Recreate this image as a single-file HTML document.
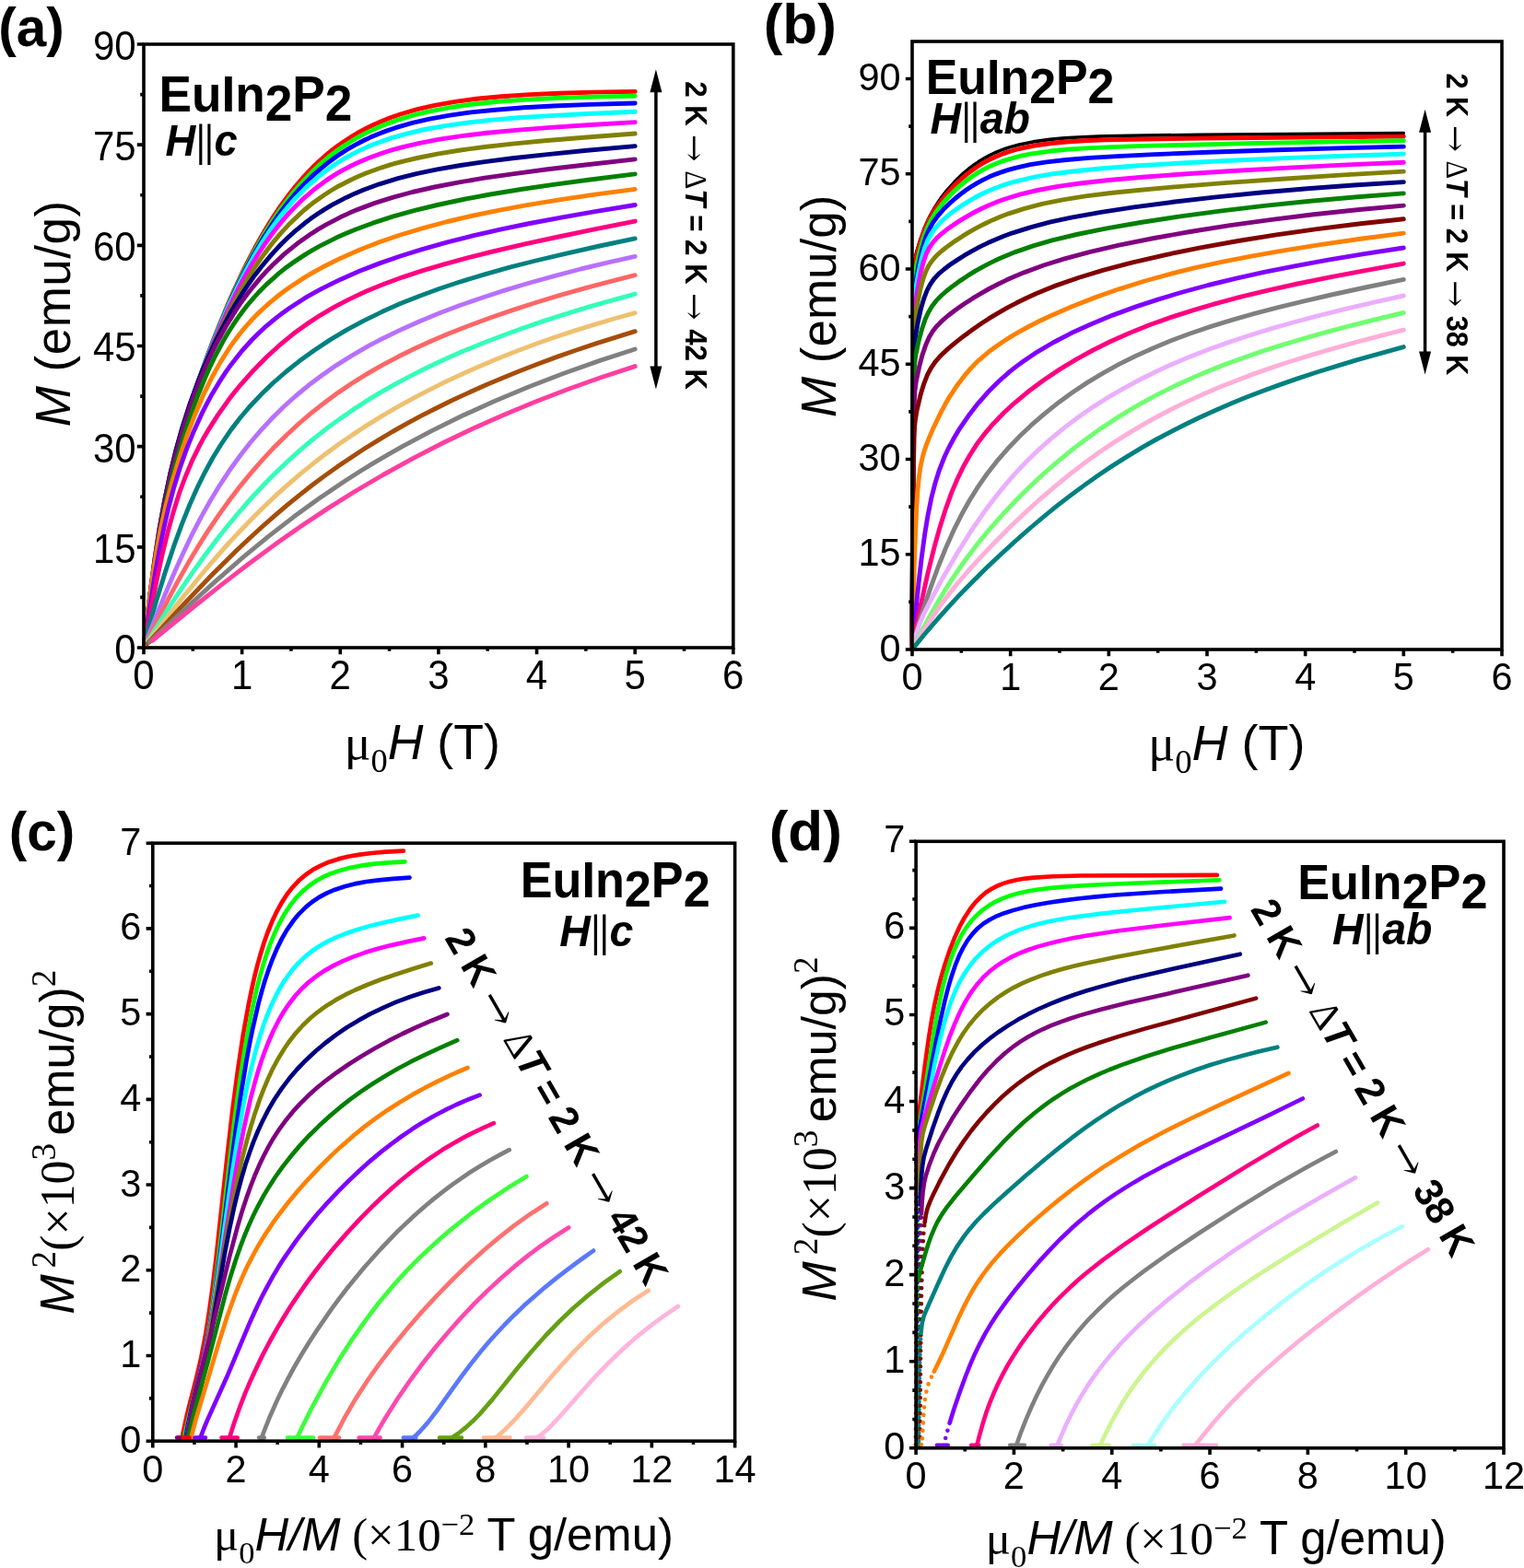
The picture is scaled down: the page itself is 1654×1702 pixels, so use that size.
<!DOCTYPE html><html><head><meta charset="utf-8"><style>html,body{margin:0;padding:0;background:#fff;}svg{display:block;}</style></head><body><svg xmlns="http://www.w3.org/2000/svg" width="1654" height="1702" viewBox="0 0 1654 1702"><rect width="1654" height="1702" fill="#fff"/><path d="M156.5 698.7 L163.0 644.5 L168.0 606.6 L173.2 572.9 L178.7 543.4 L184.9 515.2 L191.8 488.1 L200.6 458.3 L211.4 424.9 L224.7 387.4 L232.6 366.7 L239.5 349.3 L246.6 332.1 L254.1 315.1 L261.9 298.3 L268.3 285.2 L276.6 269.3 L283.5 257.0 L290.6 245.1 L297.8 233.6 L305.2 222.7 L312.9 212.2 L320.7 202.3 L328.7 193.0 L341.1 180.0 L347.4 174.0 L353.9 168.4 L360.4 163.0 L367.1 157.9 L373.9 153.2 L383.1 147.3 L390.1 143.2 L399.6 138.2 L406.9 134.7 L416.8 130.5 L424.3 127.5 L434.5 124.0 L452.8 118.7 L471.7 114.3 L494.0 110.4 L517.1 107.3 L544.0 104.7 L574.9 102.6 L607.1 101.2 L643.9 100.1 L689.2 99.4" stroke="#FF0000" stroke-width="4.9" fill="none" stroke-linecap="round" stroke-linejoin="round"/>
<path d="M156.5 698.8 L163.0 645.0 L168.0 607.2 L173.2 573.3 L178.7 543.4 L184.9 514.7 L191.8 487.3 L200.6 457.4 L210.3 427.6 L223.5 390.7 L231.2 370.3 L238.1 353.3 L245.2 336.4 L252.6 319.7 L260.3 303.2 L266.7 290.3 L275.0 274.6 L281.8 262.4 L288.8 250.7 L296.0 239.3 L303.4 228.5 L311.0 218.2 L318.7 208.3 L326.7 199.1 L339.0 186.2 L345.3 180.2 L351.7 174.6 L358.2 169.2 L364.9 164.1 L371.6 159.4 L380.8 153.5 L387.7 149.4 L397.2 144.4 L404.5 140.9 L414.3 136.6 L421.8 133.7 L431.9 130.1 L450.2 124.7 L469.0 120.3 L491.2 116.2 L514.2 113.0 L540.9 110.3 L571.8 108.1 L603.8 106.5 L643.9 105.1 L689.2 104.2" stroke="#00FF00" stroke-width="4.9" fill="none" stroke-linecap="round" stroke-linejoin="round"/>
<path d="M156.5 698.7 L163.0 644.9 L168.0 607.0 L173.2 573.2 L178.7 543.3 L184.9 514.7 L191.8 487.4 L200.6 457.6 L210.3 428.0 L223.5 391.3 L231.2 371.1 L238.1 354.3 L245.2 337.6 L252.6 321.0 L260.3 304.8 L266.7 292.2 L273.3 279.8 L280.1 267.9 L287.0 256.3 L294.2 245.2 L301.5 234.5 L309.0 224.4 L316.8 214.8 L324.7 205.7 L336.9 193.1 L343.2 187.3 L349.6 181.8 L356.0 176.6 L362.6 171.7 L369.3 167.1 L378.4 161.3 L385.4 157.4 L394.8 152.5 L402.0 149.1 L411.8 145.0 L419.3 142.1 L429.4 138.7 L447.5 133.4 L466.2 129.1 L488.4 125.1 L511.2 121.9 L537.9 119.2 L568.6 116.8 L600.6 115.0 L640.5 113.4 L689.2 112.0" stroke="#0000FF" stroke-width="4.9" fill="none" stroke-linecap="round" stroke-linejoin="round"/>
<path d="M156.5 698.7 L163.0 644.8 L168.0 606.9 L173.2 573.1 L178.7 543.2 L184.9 514.7 L191.8 487.5 L199.6 461.1 L209.1 431.5 L216.1 411.7 L222.2 395.0 L235.3 361.7 L242.3 345.1 L249.6 328.8 L257.2 312.8 L263.5 300.2 L270.0 288.1 L276.6 276.2 L283.5 264.8 L290.6 253.9 L297.8 243.4 L305.2 233.5 L312.9 224.1 L320.7 215.2 L332.8 202.9 L345.3 191.9 L358.2 182.0 L364.9 177.5 L373.9 172.0 L380.8 168.1 L390.1 163.4 L397.2 160.1 L406.9 156.1 L424.3 149.9 L442.3 144.8 L460.8 140.5 L482.8 136.6 L508.3 133.0 L534.9 130.1 L562.4 127.8 L597.3 125.6 L637.1 123.5 L689.2 121.3" stroke="#00FFFF" stroke-width="4.9" fill="none" stroke-linecap="round" stroke-linejoin="round"/>
<path d="M156.5 698.8 L163.0 645.2 L168.0 607.3 L172.6 577.1 L178.0 546.9 L183.2 521.3 L190.0 493.6 L197.5 467.0 L206.9 437.7 L212.6 421.5 L219.7 402.1 L232.6 369.7 L239.5 353.7 L246.6 337.9 L254.1 322.4 L260.3 310.2 L266.7 298.4 L273.3 287.0 L280.1 276.0 L287.0 265.4 L294.2 255.3 L301.5 245.7 L309.0 236.6 L316.8 228.0 L328.7 216.1 L341.1 205.5 L353.9 195.9 L360.4 191.6 L369.3 186.2 L383.1 179.0 L390.1 175.7 L399.6 171.7 L416.8 165.5 L426.8 162.4 L437.1 159.6 L455.5 155.3 L477.2 151.2 L502.6 147.4 L528.9 144.3 L559.3 141.4 L594.1 138.6 L637.1 135.7 L689.2 132.6" stroke="#FF00FF" stroke-width="4.9" fill="none" stroke-linecap="round" stroke-linejoin="round"/>
<path d="M156.5 698.9 L163.4 643.6 L168.6 605.4 L173.9 570.7 L178.7 543.5 L184.9 513.6 L190.9 488.8 L197.5 465.3 L205.8 439.6 L216.1 411.6 L222.2 396.3 L228.6 381.1 L235.3 366.1 L242.3 351.2 L249.6 336.6 L255.7 325.2 L263.5 311.3 L270.0 300.5 L276.6 290.1 L283.5 280.1 L290.6 270.5 L297.8 261.3 L305.2 252.6 L312.9 244.3 L324.7 232.9 L330.7 227.5 L339.0 220.8 L351.7 211.7 L358.2 207.5 L367.1 202.2 L380.8 195.2 L387.7 192.0 L397.2 188.0 L414.3 181.8 L424.3 178.7 L434.5 175.9 L452.8 171.5 L474.5 167.1 L499.7 163.0 L525.9 159.5 L556.2 156.1 L590.9 152.8 L633.7 149.2 L689.2 145.0" stroke="#808000" stroke-width="4.9" fill="none" stroke-linecap="round" stroke-linejoin="round"/>
<path d="M156.5 698.9 L163.0 646.3 L168.0 608.8 L173.2 574.7 L178.7 543.9 L184.9 514.1 L190.9 489.2 L197.5 465.4 L205.8 439.4 L214.9 414.5 L219.7 402.4 L226.0 387.7 L232.6 373.4 L238.1 362.2 L249.6 340.6 L257.2 327.7 L263.5 317.7 L270.0 308.0 L276.6 298.7 L283.5 289.7 L290.6 281.1 L297.8 272.9 L305.2 265.0 L312.9 257.6 L318.7 252.2 L330.7 242.3 L336.9 237.6 L345.3 231.8 L351.7 227.6 L360.4 222.4 L376.2 214.2 L385.4 209.9 L394.8 206.0 L411.8 199.8 L431.9 193.7 L452.8 188.4 L474.5 183.9 L499.7 179.5 L525.9 175.6 L556.2 171.8 L594.1 167.6 L637.1 163.3 L689.2 158.6" stroke="#000080" stroke-width="4.9" fill="none" stroke-linecap="round" stroke-linejoin="round"/>
<path d="M156.5 698.8 L162.6 649.2 L167.5 612.7 L172.6 579.4 L178.0 549.5 L184.1 520.4 L190.0 495.8 L197.5 468.7 L205.8 442.7 L214.9 417.9 L219.7 406.0 L224.7 394.4 L229.9 383.2 L235.3 372.3 L245.2 354.2 L255.7 337.2 L261.9 328.0 L268.3 319.2 L275.0 310.8 L281.8 302.7 L288.8 294.9 L296.0 287.5 L309.0 275.4 L322.7 264.3 L336.9 254.3 L345.3 248.9 L353.9 243.9 L369.3 235.8 L378.4 231.6 L387.7 227.6 L406.9 220.4 L426.8 214.1 L447.5 208.5 L471.7 203.0 L496.9 198.1 L525.9 193.2 L556.2 188.8 L594.1 183.8 L637.1 178.7 L689.2 172.9" stroke="#800080" stroke-width="4.9" fill="none" stroke-linecap="round" stroke-linejoin="round"/>
<path d="M156.5 698.9 L162.2 653.4 L167.0 618.8 L171.4 591.0 L176.5 562.9 L182.5 535.4 L189.1 508.7 L196.6 482.5 L204.8 456.8 L213.7 431.9 L222.2 411.0 L227.3 399.5 L232.6 388.4 L242.3 370.1 L248.1 360.3 L252.6 353.2 L257.2 346.4 L263.5 337.7 L268.3 331.5 L275.0 323.6 L281.8 316.2 L288.8 309.1 L301.5 297.7 L309.0 291.6 L316.8 285.9 L330.7 276.6 L339.0 271.6 L347.4 266.9 L364.9 258.1 L373.9 254.1 L385.4 249.3 L404.5 242.2 L426.8 234.9 L450.2 228.4 L474.5 222.5 L502.6 216.5 L531.9 211.0 L565.5 205.5 L600.6 200.3 L640.5 195.0 L689.2 188.9" stroke="#008000" stroke-width="4.9" fill="none" stroke-linecap="round" stroke-linejoin="round"/>
<path d="M156.5 698.7 L161.5 656.5 L165.6 626.1 L169.7 599.8 L174.5 573.8 L180.1 548.8 L186.5 524.4 L194.6 497.4 L202.6 473.7 L211.4 450.5 L220.9 428.2 L229.9 409.8 L239.5 392.6 L249.6 376.7 L254.1 370.4 L260.3 362.2 L265.1 356.4 L271.6 349.0 L278.3 341.9 L285.3 335.3 L292.4 328.9 L299.7 322.8 L307.1 317.0 L314.8 311.5 L330.7 301.1 L339.0 296.2 L349.6 290.3 L369.3 280.4 L390.1 271.3 L411.8 262.8 L434.5 255.0 L458.2 247.9 L485.6 240.5 L511.2 234.5 L540.9 228.3 L571.8 222.6 L607.1 216.8 L647.3 210.9 L689.2 205.4" stroke="#FF8000" stroke-width="4.9" fill="none" stroke-linecap="round" stroke-linejoin="round"/>
<path d="M156.5 699.6 L163.0 656.2 L168.0 624.9 L173.2 595.9 L178.0 572.6 L183.2 549.8 L189.1 527.9 L195.6 507.0 L202.6 487.1 L210.3 468.2 L219.7 447.6 L224.7 437.8 L229.9 428.2 L239.5 412.3 L245.2 403.7 L251.1 395.4 L261.9 381.7 L273.3 369.0 L280.1 362.2 L287.0 355.7 L299.7 345.1 L307.1 339.4 L314.8 334.0 L330.7 323.7 L339.0 318.9 L349.6 313.1 L369.3 303.4 L390.1 294.3 L411.8 285.9 L434.5 278.0 L458.2 270.6 L485.6 262.9 L514.2 255.7 L544.0 248.9 L574.9 242.5 L610.4 235.8 L647.3 229.3 L689.2 222.5" stroke="#8000FF" stroke-width="4.9" fill="none" stroke-linecap="round" stroke-linejoin="round"/>
<path d="M156.5 700.3 L164.7 657.0 L170.8 626.3 L176.5 600.1 L182.5 576.0 L188.3 555.2 L194.6 535.2 L200.6 519.0 L208.0 501.2 L216.1 484.7 L220.9 475.6 L226.0 466.9 L236.7 450.1 L248.1 434.1 L254.1 426.3 L261.9 416.8 L275.0 402.1 L288.8 388.0 L303.4 374.7 L318.7 362.1 L332.8 351.9 L347.4 342.3 L362.6 333.4 L378.4 325.1 L397.2 316.3 L416.8 308.3 L437.1 300.8 L458.2 293.9 L482.8 286.6 L508.3 279.7 L534.9 273.0 L568.6 265.2 L603.8 257.5 L643.9 249.2 L689.2 240.1" stroke="#FF0080" stroke-width="4.9" fill="none" stroke-linecap="round" stroke-linejoin="round"/>
<path d="M156.5 700.9 L162.2 678.1 L169.1 654.0 L179.4 620.7 L189.1 591.6 L197.5 568.6 L205.8 548.0 L213.7 530.2 L222.2 513.0 L231.2 496.5 L239.5 483.0 L249.6 468.1 L260.3 454.0 L271.6 440.7 L283.5 428.1 L296.0 416.0 L311.0 403.0 L324.7 392.1 L341.1 380.2 L358.2 368.9 L376.2 358.2 L394.8 348.1 L414.3 338.6 L434.5 329.6 L455.5 321.2 L477.2 313.3 L499.7 305.8 L525.9 297.8 L553.1 290.2 L581.3 283.0 L613.7 275.3 L650.7 267.0 L689.2 258.9" stroke="#008080" stroke-width="4.9" fill="none" stroke-linecap="round" stroke-linejoin="round"/>
<path d="M156.5 701.7 L170.2 667.1 L180.9 641.0 L190.0 619.7 L199.6 598.7 L209.1 578.8 L218.5 560.9 L228.6 542.9 L238.1 527.3 L249.6 509.8 L260.3 495.0 L271.6 480.5 L283.5 466.6 L296.0 453.3 L309.0 440.5 L320.7 430.0 L334.8 418.3 L349.6 407.2 L364.9 396.6 L380.8 386.6 L399.6 375.7 L416.8 366.7 L437.1 356.9 L455.5 348.7 L477.2 339.8 L499.7 331.3 L523.0 323.2 L547.0 315.4 L574.9 307.0 L600.6 299.8 L630.3 292.0 L661.1 284.7 L689.2 278.4" stroke="#B870FF" stroke-width="4.9" fill="none" stroke-linecap="round" stroke-linejoin="round"/>
<path d="M156.5 702.0 L171.4 672.1 L182.5 650.6 L192.8 631.4 L203.7 612.1 L214.9 593.4 L226.0 575.9 L236.7 560.1 L248.1 544.1 L260.3 528.1 L273.3 512.3 L285.3 498.6 L297.8 485.2 L311.0 472.2 L324.7 459.5 L339.0 447.4 L353.9 435.7 L367.1 426.1 L383.1 415.3 L397.2 406.5 L414.3 396.7 L431.9 387.3 L450.2 378.3 L469.0 369.8 L488.4 361.6 L508.3 353.7 L531.9 345.0 L556.2 336.6 L581.3 328.5 L607.1 320.7 L633.7 313.1 L661.1 305.8 L689.2 298.7" stroke="#FF6666" stroke-width="4.9" fill="none" stroke-linecap="round" stroke-linejoin="round"/>
<path d="M157.5 700.6 L185.8 655.7 L198.5 636.6 L210.1 619.9 L221.8 603.5 L234.8 586.3 L247.5 570.3 L259.6 555.8 L272.4 541.2 L286.0 526.5 L298.5 513.8 L311.7 501.3 L325.4 488.9 L339.6 476.9 L354.5 465.1 L367.7 455.4 L383.6 444.4 L397.8 435.2 L412.3 426.3 L429.9 416.4 L445.4 408.1 L464.0 398.8 L483.2 389.8 L502.9 381.1 L523.3 372.8 L544.2 364.7 L565.8 356.8 L591.1 348.1 L613.8 340.8 L637.2 333.7 L661.1 326.8 L689.2 319.1" stroke="#33FFB8" stroke-width="4.9" fill="none" stroke-linecap="round" stroke-linejoin="round"/>
<path d="M158.5 699.3 L193.7 654.3 L221.5 620.3 L235.6 603.8 L248.3 589.5 L260.4 576.5 L273.2 563.2 L286.8 549.7 L299.3 537.9 L312.4 526.1 L326.0 514.4 L340.3 502.8 L353.0 493.0 L368.3 481.8 L381.9 472.4 L398.3 461.6 L415.3 451.1 L432.9 440.9 L448.4 432.3 L467.1 422.6 L483.5 414.4 L503.3 405.2 L520.7 397.5 L541.5 388.8 L559.8 381.5 L581.7 373.3 L600.9 366.5 L623.9 358.9 L644.1 352.6 L668.1 345.5 L689.2 339.7" stroke="#EEC070" stroke-width="4.9" fill="none" stroke-linecap="round" stroke-linejoin="round"/>
<path d="M160.0 698.6 L198.8 656.6 L229.0 625.0 L257.0 597.3 L271.1 584.0 L284.5 571.8 L298.6 559.3 L311.5 548.4 L325.1 537.3 L339.2 526.3 L353.9 515.4 L367.0 506.1 L380.5 496.9 L394.4 487.8 L411.2 477.3 L426.0 468.5 L441.3 459.9 L457.0 451.4 L473.1 443.2 L489.7 435.0 L506.7 427.1 L527.0 418.0 L544.9 410.4 L563.2 403.0 L582.0 395.7 L604.4 387.4 L624.1 380.5 L647.6 372.6 L689.2 359.7" stroke="#A64D0A" stroke-width="4.9" fill="none" stroke-linecap="round" stroke-linejoin="round"/>
<path d="M162.0 697.3 L201.7 660.2 L233.4 631.4 L263.2 605.4 L291.2 582.4 L318.7 561.1 L346.7 540.7 L374.9 521.7 L390.9 511.5 L405.0 502.9 L422.1 492.8 L437.1 484.3 L468.6 467.6 L501.7 451.3 L536.5 435.5 L573.0 420.2 L611.2 405.5 L651.1 391.4 L689.2 379.0" stroke="#808080" stroke-width="4.9" fill="none" stroke-linecap="round" stroke-linejoin="round"/>
<path d="M165.4 695.3 L206.7 661.5 L238.9 635.9 L269.0 612.7 L299.0 590.6 L328.8 569.8 L357.3 550.9 L385.9 533.0 L416.5 515.0 L449.0 497.1 L480.8 480.8 L514.2 464.8 L546.4 450.4 L580.0 436.5 L615.0 423.0 L651.4 410.0 L689.2 397.6" stroke="#FF3FA0" stroke-width="4.9" fill="none" stroke-linecap="round" stroke-linejoin="round"/>
<path d="M990.0 705.0 L991.2 376.6 L992.0 310.8 L992.5 292.7 L993.1 283.0 L993.7 278.4 L994.6 273.8 L998.7 260.4 L1003.4 247.2 L1008.9 235.1 L1014.6 224.9 L1020.7 215.7 L1027.7 206.6 L1035.8 197.6 L1045.8 187.9 L1051.3 183.3 L1056.2 179.6 L1062.3 175.4 L1067.8 172.0 L1073.4 168.9 L1079.4 166.0 L1085.6 163.4 L1092.1 161.0 L1099.0 158.9 L1106.1 157.0 L1121.2 153.9 L1139.3 151.4 L1155.3 149.9 L1174.3 148.7 L1196.9 147.9 L1225.9 147.2 L1302.8 146.3 L1523.3 144.6" stroke="#000000" stroke-width="3.6" fill="none" stroke-linecap="round" stroke-linejoin="round"/>
<path d="M990.0 705.0 L991.2 379.5 L992.0 315.1 L992.5 297.4 L993.1 287.7 L993.7 283.1 L994.6 278.1 L998.4 264.3 L1002.8 251.3 L1007.6 239.9 L1012.5 230.7 L1018.3 221.9 L1025.7 212.5 L1033.5 203.8 L1039.0 198.3 L1044.0 193.7 L1049.4 189.1 L1055.2 184.7 L1061.3 180.5 L1066.6 177.2 L1073.4 173.5 L1079.4 170.7 L1085.6 168.0 L1092.1 165.6 L1099.0 163.5 L1106.1 161.5 L1121.2 158.3 L1139.3 155.7 L1157.1 154.0 L1176.3 152.8 L1199.0 151.9 L1228.2 151.2 L1305.6 150.1 L1523.3 148.1" stroke="#FF0000" stroke-width="4.9" fill="none" stroke-linecap="round" stroke-linejoin="round"/>
<path d="M990.0 705.0 L990.8 497.4 L991.4 390.9 L992.2 328.5 L992.8 310.1 L993.4 299.2 L994.8 288.1 L998.1 272.7 L1001.8 259.6 L1006.0 248.1 L1010.2 239.4 L1015.6 230.6 L1022.5 221.5 L1030.5 212.5 L1035.8 207.3 L1041.5 202.1 L1046.7 197.8 L1052.3 193.5 L1058.2 189.4 L1063.4 186.2 L1070.0 182.6 L1075.8 179.8 L1083.1 176.7 L1089.5 174.4 L1103.2 170.3 L1110.5 168.6 L1119.6 166.9 L1137.6 164.3 L1157.1 162.3 L1178.3 160.9 L1205.5 159.6 L1240.1 158.4 L1365.6 155.4 L1523.3 152.6" stroke="#00FF00" stroke-width="4.9" fill="none" stroke-linecap="round" stroke-linejoin="round"/>
<path d="M990.0 705.0 L991.4 410.0 L992.2 346.3 L992.8 326.2 L993.4 313.7 L994.8 300.3 L997.4 285.2 L1000.9 270.1 L1004.5 258.2 L1008.0 249.8 L1012.5 241.6 L1017.8 234.4 L1025.0 226.2 L1030.5 220.9 L1036.6 215.5 L1042.3 210.9 L1048.5 206.3 L1054.2 202.5 L1060.2 198.8 L1066.6 195.4 L1073.4 192.1 L1080.6 189.1 L1086.9 186.8 L1093.5 184.7 L1101.8 182.3 L1118.1 178.7 L1135.9 175.9 L1157.1 173.5 L1182.3 171.4 L1212.2 169.6 L1252.4 167.6 L1311.3 165.3 L1378.5 163.0 L1450.7 160.9 L1523.3 159.1" stroke="#0000FF" stroke-width="4.9" fill="none" stroke-linecap="round" stroke-linejoin="round"/>
<path d="M990.0 705.0 L991.2 412.9 L992.0 350.9 L993.0 323.2 L994.1 311.9 L996.8 296.4 L1000.0 281.5 L1003.4 269.6 L1006.8 261.0 L1010.2 254.5 L1014.6 248.2 L1020.1 242.0 L1025.0 237.3 L1031.2 232.1 L1038.2 227.0 L1044.9 222.3 L1052.3 217.8 L1059.2 213.8 L1066.6 210.0 L1073.4 206.9 L1080.6 204.0 L1088.2 201.2 L1096.2 198.7 L1104.6 196.3 L1122.8 192.2 L1142.7 188.7 L1166.5 185.7 L1196.9 182.7 L1232.9 180.0 L1278.2 177.2 L1334.8 174.3 L1394.9 171.6 L1458.0 169.2 L1523.3 167.1" stroke="#00FFFF" stroke-width="4.9" fill="none" stroke-linecap="round" stroke-linejoin="round"/>
<path d="M990.0 705.0 L991.2 424.8 L991.8 369.4 L992.8 340.0 L993.8 327.7 L996.1 312.1 L999.2 296.1 L1002.1 284.6 L1005.2 275.7 L1008.4 269.2 L1012.5 263.1 L1017.2 257.9 L1021.9 253.7 L1027.7 249.1 L1035.0 243.9 L1043.2 238.6 L1050.4 234.3 L1058.2 230.0 L1066.6 225.7 L1074.6 222.2 L1083.1 218.8 L1090.8 216.0 L1107.5 210.9 L1126.0 206.5 L1148.0 202.4 L1172.3 199.0 L1203.4 195.5 L1240.1 192.3 L1283.6 189.0 L1337.8 185.5 L1398.3 182.1 L1461.7 178.9 L1523.3 176.3" stroke="#FF00FF" stroke-width="4.9" fill="none" stroke-linecap="round" stroke-linejoin="round"/>
<path d="M990.0 705.0 L991.0 434.5 L991.6 380.8 L992.5 354.2 L993.7 342.6 L996.1 327.6 L998.9 313.9 L1001.8 303.0 L1004.9 294.5 L1008.0 288.2 L1012.1 282.3 L1016.7 277.2 L1021.9 272.5 L1028.4 267.4 L1036.6 261.6 L1044.9 256.2 L1053.2 251.1 L1061.3 246.6 L1070.0 242.2 L1078.2 238.4 L1086.9 234.8 L1094.8 231.8 L1112.0 226.3 L1130.9 221.4 L1153.4 216.9 L1178.3 212.9 L1205.5 209.5 L1237.7 206.2 L1278.2 202.6 L1331.8 198.4 L1391.6 194.2 L1458.0 189.9 L1523.3 186.1" stroke="#808000" stroke-width="4.9" fill="none" stroke-linecap="round" stroke-linejoin="round"/>
<path d="M990.0 705.0 L991.0 452.9 L991.6 401.2 L992.5 375.1 L993.7 364.1 L996.3 349.4 L999.4 335.4 L1002.8 323.9 L1006.0 315.5 L1009.3 309.1 L1013.5 303.0 L1018.9 297.2 L1024.4 292.5 L1030.5 287.8 L1038.2 282.6 L1046.7 277.2 L1055.2 272.3 L1063.4 267.9 L1072.3 263.6 L1080.6 259.9 L1089.5 256.3 L1099.0 252.8 L1118.1 246.8 L1139.3 241.2 L1162.7 236.2 L1194.8 230.4 L1230.6 224.9 L1272.9 219.3 L1320.0 213.9 L1368.8 209.0 L1418.7 204.7 L1469.1 201.0 L1523.3 197.6" stroke="#000080" stroke-width="4.9" fill="none" stroke-linecap="round" stroke-linejoin="round"/>
<path d="M990.0 705.0 L991.1 462.2 L991.7 416.8 L992.6 394.7 L994.0 384.5 L997.2 369.6 L1000.6 357.0 L1004.1 346.6 L1007.6 339.0 L1011.6 332.3 L1016.1 326.4 L1021.9 320.5 L1027.7 315.5 L1034.2 310.4 L1042.3 304.6 L1050.4 299.2 L1058.2 294.4 L1066.6 289.6 L1075.8 284.9 L1084.4 280.8 L1101.8 273.6 L1121.2 266.9 L1142.7 260.7 L1168.4 254.5 L1201.2 247.9 L1237.7 241.5 L1280.9 234.9 L1325.8 228.9 L1372.0 223.4 L1422.2 218.2 L1472.9 213.7 L1523.3 209.9" stroke="#008000" stroke-width="4.9" fill="none" stroke-linecap="round" stroke-linejoin="round"/>
<path d="M990.0 705.0 L991.2 490.6 L991.9 444.8 L992.9 424.5 L994.3 414.0 L997.9 397.0 L1001.2 384.7 L1004.9 373.9 L1008.4 366.1 L1012.5 359.3 L1017.2 353.4 L1023.1 347.6 L1029.1 342.5 L1036.6 336.8 L1045.8 330.3 L1055.2 324.2 L1064.5 318.6 L1073.4 313.5 L1083.1 308.5 L1092.1 304.1 L1101.8 299.8 L1112.0 295.6 L1132.5 288.0 L1155.3 280.9 L1182.3 273.6 L1214.4 266.2 L1252.4 258.5 L1291.7 251.5 L1334.8 244.7 L1378.5 238.6 L1425.7 232.8 L1472.9 227.7 L1523.3 223.1" stroke="#800080" stroke-width="4.9" fill="none" stroke-linecap="round" stroke-linejoin="round"/>
<path d="M990.0 705.0 L990.7 577.9 L991.3 512.0 L992.1 474.3 L992.6 463.1 L993.3 456.0 L995.2 444.9 L999.2 428.0 L1002.8 416.3 L1006.4 407.2 L1010.2 399.9 L1015.1 392.7 L1021.3 385.7 L1029.1 378.4 L1036.6 372.1 L1045.8 364.9 L1055.2 358.0 L1064.5 351.5 L1073.4 345.7 L1083.1 339.8 L1093.5 333.9 L1103.2 328.8 L1113.5 323.7 L1124.4 318.8 L1135.9 314.0 L1146.2 309.9 L1170.4 301.5 L1196.9 293.4 L1228.2 285.2 L1265.1 276.6 L1302.8 268.9 L1343.8 261.5 L1385.0 254.9 L1429.2 248.6 L1476.6 242.7 L1523.3 237.8" stroke="#800000" stroke-width="4.9" fill="none" stroke-linecap="round" stroke-linejoin="round"/>
<path d="M990.0 705.0 L992.4 609.2 L994.5 555.7 L995.7 535.2 L997.0 521.1 L998.7 508.3 L1000.9 497.4 L1002.8 490.6 L1005.2 483.3 L1008.4 475.2 L1012.5 465.6 L1021.3 447.4 L1025.7 439.1 L1030.5 430.8 L1039.0 417.9 L1047.6 406.7 L1052.3 401.3 L1057.2 396.1 L1062.3 391.1 L1067.8 386.3 L1074.6 380.7 L1081.9 375.4 L1089.5 370.2 L1097.6 365.1 L1106.1 360.2 L1116.5 354.5 L1127.6 348.8 L1139.3 343.2 L1162.7 333.0 L1188.5 322.9 L1214.4 313.8 L1242.5 305.0 L1270.3 297.3 L1297.2 290.7 L1325.8 284.4 L1359.3 277.8 L1394.9 271.6 L1432.7 265.6 L1476.6 259.3 L1523.3 253.1" stroke="#FF8000" stroke-width="4.9" fill="none" stroke-linecap="round" stroke-linejoin="round"/>
<path d="M990.0 705.0 L992.3 678.5 L997.0 632.9 L1000.3 604.5 L1003.8 578.9 L1007.2 558.4 L1011.1 539.3 L1015.1 523.9 L1019.5 510.1 L1025.0 496.0 L1028.4 488.7 L1032.0 481.7 L1035.8 474.8 L1040.6 466.7 L1050.4 452.3 L1061.3 438.1 L1072.3 425.6 L1084.4 413.5 L1096.2 403.1 L1103.2 397.6 L1110.5 392.2 L1126.0 381.8 L1142.7 372.0 L1162.7 361.6 L1184.4 351.7 L1207.7 342.1 L1232.9 332.9 L1257.4 324.8 L1283.6 317.0 L1311.3 309.5 L1340.8 302.3 L1372.0 295.4 L1405.0 288.8 L1439.9 282.4 L1480.4 275.6 L1523.3 269.0" stroke="#8000FF" stroke-width="4.9" fill="none" stroke-linecap="round" stroke-linejoin="round"/>
<path d="M990.0 705.0 L993.0 686.5 L999.2 656.9 L1006.8 623.0 L1014.0 593.8 L1020.1 572.2 L1026.4 552.3 L1032.7 534.9 L1039.0 520.0 L1045.8 506.0 L1052.3 494.5 L1060.2 482.1 L1068.9 470.6 L1078.2 459.7 L1089.5 448.0 L1101.8 436.8 L1115.0 425.8 L1132.5 412.8 L1149.8 401.1 L1168.4 389.8 L1186.4 380.0 L1205.5 370.5 L1225.9 361.4 L1247.4 352.8 L1270.3 344.6 L1294.5 336.8 L1320.0 329.3 L1346.9 322.2 L1375.2 315.4 L1408.4 308.0 L1443.4 300.9 L1480.4 293.8 L1523.3 286.1" stroke="#FF0080" stroke-width="4.9" fill="none" stroke-linecap="round" stroke-linejoin="round"/>
<path d="M990.0 705.0 L994.5 686.2 L999.4 669.0 L1008.9 640.9 L1018.3 615.0 L1026.4 595.0 L1035.0 575.7 L1043.2 559.3 L1052.3 543.0 L1061.3 528.6 L1071.1 514.5 L1081.9 500.7 L1093.5 487.3 L1106.1 474.1 L1119.6 461.2 L1134.2 448.6 L1149.8 436.2 L1164.6 425.5 L1180.3 415.1 L1196.9 405.1 L1214.4 395.4 L1232.9 386.2 L1252.4 377.4 L1270.3 370.0 L1291.7 362.0 L1314.2 354.4 L1337.8 347.1 L1362.4 340.1 L1388.3 333.4 L1415.3 326.8 L1447.1 319.5 L1484.2 311.5 L1523.3 303.4" stroke="#808080" stroke-width="4.9" fill="none" stroke-linecap="round" stroke-linejoin="round"/>
<path d="M990.0 705.0 L994.1 689.2 L997.9 677.7 L1002.4 666.8 L1008.9 653.8 L1023.7 626.4 L1039.0 600.2 L1053.2 577.5 L1066.6 557.8 L1078.2 542.2 L1089.5 528.1 L1101.8 513.9 L1115.0 500.0 L1127.6 487.8 L1141.0 475.8 L1155.3 464.1 L1170.4 452.7 L1186.4 441.6 L1201.2 432.2 L1219.0 421.8 L1235.3 413.0 L1254.9 403.2 L1272.9 395.0 L1291.7 387.1 L1311.3 379.5 L1331.8 372.1 L1356.2 364.0 L1378.5 357.1 L1405.0 349.5 L1429.2 343.1 L1458.0 335.9 L1488.0 328.9 L1523.3 321.0" stroke="#EBAEFF" stroke-width="4.9" fill="none" stroke-linecap="round" stroke-linejoin="round"/>
<path d="M990.0 705.0 L1001.8 682.3 L1011.1 665.2 L1020.7 648.7 L1030.5 632.9 L1040.6 617.8 L1051.3 602.9 L1062.3 588.6 L1074.6 573.8 L1088.2 558.4 L1101.8 544.0 L1116.5 529.3 L1132.5 514.4 L1148.0 500.9 L1162.7 488.8 L1178.3 476.9 L1194.8 465.1 L1209.9 455.1 L1225.9 445.2 L1242.5 435.6 L1257.4 427.6 L1275.6 418.6 L1291.7 411.2 L1308.5 404.0 L1328.8 395.9 L1346.9 389.2 L1368.8 381.6 L1391.6 374.3 L1415.3 367.3 L1439.9 360.4 L1465.4 353.7 L1491.9 347.0 L1523.3 339.5" stroke="#70FF70" stroke-width="4.9" fill="none" stroke-linecap="round" stroke-linejoin="round"/>
<path d="M990.0 705.0 L1001.5 686.1 L1010.7 671.7 L1019.5 658.8 L1029.1 645.9 L1039.8 632.5 L1051.3 619.1 L1064.5 604.6 L1079.4 588.9 L1096.2 572.0 L1112.0 557.0 L1127.6 542.8 L1144.5 528.3 L1160.8 515.0 L1176.3 503.1 L1192.6 491.3 L1209.9 479.6 L1225.9 469.6 L1240.1 461.1 L1257.4 451.5 L1272.9 443.4 L1289.0 435.6 L1305.6 428.0 L1322.9 420.6 L1340.8 413.4 L1359.3 406.4 L1378.5 399.6 L1398.3 393.0 L1422.2 385.6 L1443.4 379.3 L1469.1 372.1 L1495.7 365.1 L1523.3 358.1" stroke="#FFAED8" stroke-width="4.9" fill="none" stroke-linecap="round" stroke-linejoin="round"/>
<path d="M990.0 705.0 L1003.4 688.5 L1016.1 673.6 L1028.4 659.8 L1040.6 646.7 L1055.2 631.7 L1070.0 617.1 L1085.6 602.2 L1101.8 587.5 L1116.5 574.5 L1132.5 561.0 L1148.0 548.4 L1162.7 537.1 L1178.3 525.6 L1192.6 515.5 L1207.7 505.4 L1223.6 495.4 L1240.1 485.4 L1254.9 477.0 L1270.3 468.8 L1286.3 460.7 L1302.8 452.7 L1320.0 444.9 L1337.8 437.3 L1353.1 431.1 L1368.8 425.0 L1388.3 417.9 L1408.4 410.9 L1429.2 404.0 L1450.7 397.3 L1472.9 390.6 L1523.3 376.6" stroke="#008080" stroke-width="4.9" fill="none" stroke-linecap="round" stroke-linejoin="round"/>
<path d="M199.8 1561.5 L197.6 1561.1 L199.0 1553.7 L203.2 1534.5 L213.5 1494.4 L218.2 1474.2 L222.8 1450.5 L227.2 1422.7 L230.6 1398.1 L234.4 1366.8 L246.8 1253.3 L252.3 1205.2 L257.9 1162.9 L263.9 1122.9 L269.8 1090.2 L272.9 1075.0 L276.1 1060.6 L279.5 1047.1 L283.1 1034.5 L286.7 1022.8 L290.5 1012.0 L295.5 999.8 L300.7 988.8 L306.1 979.1 L311.7 970.5 L317.5 963.1 L324.8 955.4 L332.4 949.0 L340.3 943.6 L348.5 939.3 L357.0 935.7 L367.2 932.4 L377.8 929.8 L390.4 927.6 L403.4 926.0 L418.6 924.7 L437.9 923.7" stroke="#FF0000" stroke-width="4.7" fill="none" stroke-linecap="round" stroke-linejoin="round"/>
<path d="M202.3 1561.5 L200.0 1561.1 L201.2 1555.0 L205.6 1535.2 L215.6 1495.8 L220.2 1476.0 L224.8 1452.8 L229.3 1425.7 L232.6 1401.9 L236.5 1371.6 L249.0 1261.8 L254.6 1215.1 L260.2 1173.9 L266.3 1134.8 L272.2 1102.7 L278.6 1073.6 L282.0 1060.2 L285.5 1047.8 L289.2 1036.1 L293.0 1025.4 L298.0 1013.1 L303.2 1002.1 L308.6 992.3 L315.4 982.1 L321.3 974.7 L328.7 967.1 L335.1 961.7 L343.0 956.2 L351.2 951.6 L359.8 947.9 L370.1 944.5 L380.8 941.8 L393.4 939.4 L406.5 937.7 L421.8 936.3 L439.4 935.3" stroke="#00FF00" stroke-width="4.7" fill="none" stroke-linecap="round" stroke-linejoin="round"/>
<path d="M203.3 1561.5 L201.4 1561.2 L203.8 1547.5 L208.3 1526.7 L217.8 1486.8 L222.0 1468.1 L226.7 1444.2 L230.8 1419.9 L234.3 1396.2 L238.3 1366.4 L251.0 1264.4 L256.2 1224.1 L262.0 1184.7 L267.5 1151.2 L271.2 1131.4 L274.3 1116.2 L280.8 1088.1 L284.3 1075.3 L287.9 1063.2 L291.7 1051.9 L295.6 1041.5 L300.6 1029.6 L305.9 1018.9 L311.4 1009.3 L318.4 999.3 L324.4 992.1 L331.9 984.6 L338.4 979.3 L346.4 973.9 L354.8 969.4 L363.5 965.7 L374.0 962.2 L384.8 959.4 L397.7 957.0 L411.0 955.3 L426.6 953.8 L444.5 952.7" stroke="#0000FF" stroke-width="4.7" fill="none" stroke-linecap="round" stroke-linejoin="round"/>
<path d="M204.3 1561.5 L202.5 1561.2 L205.0 1547.1 L209.1 1527.7 L221.8 1471.6 L225.9 1450.8 L230.0 1427.5 L236.7 1383.8 L248.5 1297.6 L253.3 1264.6 L259.1 1228.1 L264.6 1197.0 L268.3 1178.6 L271.5 1164.5 L278.1 1138.3 L282.5 1123.4 L286.2 1112.3 L290.0 1101.9 L294.0 1092.3 L299.2 1081.2 L304.5 1071.3 L310.2 1062.3 L317.2 1052.9 L323.3 1045.9 L330.9 1038.6 L338.8 1032.2 L346.9 1026.7 L355.4 1021.9 L365.6 1017.1 L376.2 1012.9 L387.1 1009.2 L400.0 1005.5 L415.0 1001.7 L432.2 997.9 L453.6 993.6" stroke="#00FFFF" stroke-width="4.7" fill="none" stroke-linecap="round" stroke-linejoin="round"/>
<path d="M205.3 1561.5 L203.9 1561.3 L208.3 1535.8 L212.6 1514.4 L224.5 1459.0 L232.0 1419.4 L238.0 1383.6 L253.8 1283.6 L259.1 1253.4 L264.8 1224.2 L271.7 1193.4 L275.9 1177.5 L279.3 1165.4 L283.8 1151.3 L287.6 1140.6 L291.5 1130.7 L296.5 1119.2 L301.8 1108.7 L307.3 1099.1 L313.1 1090.5 L320.2 1081.2 L327.7 1073.0 L335.4 1065.8 L343.5 1059.5 L351.8 1053.9 L361.9 1048.1 L372.3 1043.1 L383.1 1038.6 L395.8 1034.1 L409.0 1030.1 L424.3 1026.1 L441.9 1022.1 L460.2 1018.4" stroke="#FF00FF" stroke-width="4.7" fill="none" stroke-linecap="round" stroke-linejoin="round"/>
<path d="M206.3 1561.5 L204.8 1561.3 L206.8 1549.9 L210.4 1531.0 L220.1 1484.8 L225.0 1460.0 L230.7 1429.0 L247.3 1333.2 L253.2 1302.2 L258.8 1275.3 L263.3 1255.9 L267.3 1240.3 L272.3 1222.5 L276.7 1208.4 L281.2 1195.2 L286.0 1182.7 L290.9 1171.0 L296.0 1160.1 L301.4 1150.0 L308.1 1139.0 L313.9 1130.5 L321.1 1121.3 L328.6 1113.0 L336.4 1105.5 L344.5 1098.8 L354.3 1091.7 L364.4 1085.4 L374.9 1079.7 L385.7 1074.5 L398.5 1069.0 L413.3 1063.3 L428.6 1058.0 L446.1 1052.3 L467.8 1045.6" stroke="#808000" stroke-width="4.7" fill="none" stroke-linecap="round" stroke-linejoin="round"/>
<path d="M208.3 1561.5 L206.6 1561.3 L210.2 1543.0 L219.0 1501.2 L223.5 1478.6 L228.7 1449.5 L243.9 1360.7 L249.0 1334.2 L254.5 1308.6 L258.3 1293.2 L262.2 1278.6 L266.3 1264.6 L270.7 1251.5 L275.2 1239.1 L280.0 1227.5 L285.0 1216.7 L291.2 1204.6 L297.7 1193.5 L305.7 1181.6 L314.0 1170.6 L322.6 1160.5 L331.6 1151.2 L342.2 1141.2 L353.2 1132.0 L364.6 1123.4 L376.4 1115.3 L388.6 1107.9 L401.2 1100.9 L415.9 1093.8 L429.4 1087.9 L445.1 1082.0 L459.6 1077.2 L476.3 1072.4" stroke="#000080" stroke-width="4.7" fill="none" stroke-linecap="round" stroke-linejoin="round"/>
<path d="M204.0 1561.5 L202.6 1561.3 L203.7 1554.5 L207.6 1533.5 L211.9 1513.6 L230.6 1440.2 L249.1 1364.0 L258.1 1330.4 L262.9 1314.2 L267.2 1301.2 L271.6 1288.7 L276.2 1276.8 L281.0 1265.6 L286.0 1255.0 L291.2 1245.1 L296.6 1235.7 L303.4 1225.3 L310.5 1215.7 L317.8 1206.7 L325.4 1198.4 L334.5 1189.3 L344.0 1180.8 L353.8 1172.8 L365.4 1164.2 L378.8 1155.0 L392.7 1146.2 L407.1 1137.8 L421.8 1129.7 L437.0 1122.0 L452.7 1114.7 L468.8 1107.7 L485.4 1101.0" stroke="#800080" stroke-width="4.7" fill="none" stroke-linecap="round" stroke-linejoin="round"/>
<path d="M204.5 1561.5 L204.0 1561.4 L205.5 1554.5 L211.2 1530.9 L225.5 1478.6 L244.3 1406.0 L250.1 1385.7 L255.6 1368.3 L260.6 1353.9 L264.9 1342.5 L269.5 1331.4 L275.2 1318.8 L280.2 1308.8 L286.4 1297.4 L291.8 1288.4 L298.5 1278.0 L306.6 1266.6 L316.3 1254.2 L325.1 1243.9 L335.4 1232.7 L346.2 1222.1 L357.3 1211.9 L368.8 1202.2 L380.6 1192.9 L392.8 1184.1 L405.4 1175.7 L418.4 1167.7 L431.7 1160.0 L445.4 1152.7 L461.3 1144.8 L477.6 1137.3 L496.2 1129.2" stroke="#008000" stroke-width="4.7" fill="none" stroke-linecap="round" stroke-linejoin="round"/>
<path d="M207.8 1561.5 L207.1 1561.4 L212.7 1540.1 L236.9 1459.4 L246.6 1428.7 L255.3 1404.8 L260.4 1392.2 L265.7 1380.1 L270.5 1370.3 L276.4 1359.1 L282.5 1348.4 L289.0 1338.1 L295.6 1328.2 L302.5 1318.6 L312.0 1306.3 L323.1 1292.8 L334.7 1279.8 L346.6 1267.2 L358.9 1254.9 L370.2 1244.4 L383.3 1232.9 L395.4 1223.2 L407.8 1213.9 L420.6 1204.9 L433.8 1196.4 L447.3 1188.4 L461.3 1180.7 L475.7 1173.4 L490.4 1166.4 L507.5 1159.0" stroke="#FF8000" stroke-width="4.7" fill="none" stroke-linecap="round" stroke-linejoin="round"/>
<path d="M218.0 1561.5 L217.3 1561.4 L217.6 1560.4 L221.1 1551.0 L225.1 1541.4 L245.7 1495.8 L271.3 1435.2 L278.2 1420.0 L284.6 1406.8 L290.4 1395.8 L296.5 1384.9 L301.7 1376.1 L308.2 1365.8 L320.8 1347.6 L328.0 1338.1 L335.4 1328.8 L345.5 1316.6 L356.0 1304.8 L366.8 1293.3 L378.0 1282.1 L389.5 1271.2 L401.3 1260.6 L413.5 1250.4 L424.5 1241.8 L435.8 1233.5 L447.4 1225.6 L459.3 1218.1 L471.6 1211.0 L484.2 1204.4 L495.4 1199.0 L508.8 1193.2 L520.6 1188.6" stroke="#8000FF" stroke-width="4.7" fill="none" stroke-linecap="round" stroke-linejoin="round"/>
<path d="M249.8 1561.5 L248.8 1561.4 L253.9 1545.3 L259.8 1528.5 L266.0 1512.4 L272.0 1498.4 L278.2 1484.9 L285.0 1470.9 L292.6 1456.5 L299.8 1443.6 L307.4 1430.7 L315.5 1417.8 L324.0 1405.1 L331.7 1394.0 L340.9 1381.5 L350.5 1369.2 L360.4 1357.0 L370.7 1345.1 L381.2 1333.3 L392.1 1321.7 L403.3 1310.3 L414.9 1299.2 L425.3 1289.7 L436.0 1280.5 L447.0 1271.6 L458.3 1263.1 L468.3 1256.0 L480.2 1248.1 L490.8 1241.7 L501.6 1235.6 L512.7 1229.8 L524.2 1224.3 L535.9 1219.2" stroke="#FF0080" stroke-width="4.7" fill="none" stroke-linecap="round" stroke-linejoin="round"/>
<path d="M284.8 1561.5 L283.6 1561.4 L286.8 1553.0 L293.1 1537.2 L300.3 1521.0 L306.4 1508.3 L313.0 1495.6 L319.6 1483.5 L327.0 1470.8 L335.0 1457.7 L342.6 1445.9 L359.1 1421.9 L367.9 1409.9 L377.2 1397.8 L386.8 1385.9 L395.5 1375.5 L413.8 1355.0 L431.7 1336.4 L450.7 1318.5 L461.3 1309.2 L470.7 1301.4 L480.3 1293.8 L490.1 1286.4 L500.2 1279.3 L510.5 1272.3 L521.1 1265.7 L532.0 1259.3 L543.2 1253.1 L552.7 1248.2" stroke="#808080" stroke-width="4.7" fill="none" stroke-linecap="round" stroke-linejoin="round"/>
<path d="M323.6 1561.5 L322.0 1561.4 L329.9 1544.9 L338.2 1528.5 L353.2 1500.9 L368.9 1474.4 L382.2 1453.8 L396.2 1433.8 L410.4 1415.0 L425.9 1396.4 L441.3 1379.4 L457.7 1362.9 L475.0 1346.9 L491.7 1332.6 L510.8 1317.5 L530.7 1303.0 L551.6 1289.1 L571.5 1276.9" stroke="#3CFF3C" stroke-width="4.7" fill="none" stroke-linecap="round" stroke-linejoin="round"/>
<path d="M364.3 1561.5 L362.2 1561.4 L373.2 1540.3 L385.3 1519.4 L398.7 1498.7 L411.5 1480.6 L425.3 1462.5 L440.9 1443.5 L457.9 1423.9 L475.1 1405.3 L492.1 1388.0 L508.6 1372.0 L526.1 1356.2 L542.9 1342.1 L558.9 1329.7 L575.7 1317.7 L593.3 1306.3" stroke="#FF7070" stroke-width="4.7" fill="none" stroke-linecap="round" stroke-linejoin="round"/>
<path d="M406.8 1561.5 L405.4 1561.5 L411.9 1549.9 L418.8 1538.3 L431.3 1518.5 L444.6 1499.1 L457.9 1481.0 L471.5 1463.7 L485.8 1446.7 L500.3 1430.4 L514.7 1415.2 L528.9 1401.1 L543.9 1387.2 L558.4 1374.7 L573.6 1362.4 L588.0 1351.7 L603.1 1341.4 L617.1 1332.5" stroke="#FF48AD" stroke-width="4.7" fill="none" stroke-linecap="round" stroke-linejoin="round"/>
<path d="M447.5 1561.5 L447.3 1561.5 L451.7 1557.7 L456.2 1553.3 L464.5 1543.9 L474.1 1531.3 L500.2 1494.8 L512.8 1478.2 L521.7 1467.1 L530.4 1456.8 L538.7 1447.5 L547.6 1438.0 L558.3 1427.2 L568.3 1417.6 L580.3 1406.9 L591.5 1397.3 L603.1 1387.9 L616.8 1377.3 L629.4 1368.0 L644.0 1357.6" stroke="#5A78FF" stroke-width="4.7" fill="none" stroke-linecap="round" stroke-linejoin="round"/>
<path d="M489.0 1561.5 L497.3 1556.0 L505.0 1549.9 L512.9 1542.8 L520.7 1534.9 L534.1 1519.4 L562.3 1484.3 L577.1 1466.7 L591.9 1450.0 L607.4 1434.0 L622.1 1420.0 L638.2 1406.1 L655.5 1392.4 L672.7 1380.1" stroke="#65A014" stroke-width="4.7" fill="none" stroke-linecap="round" stroke-linejoin="round"/>
<path d="M537.0 1561.5 L548.7 1551.2 L559.8 1539.8 L570.6 1527.6 L596.1 1497.0 L609.5 1481.6 L624.1 1465.8 L637.6 1452.3 L653.8 1437.4 L669.4 1424.7 L686.5 1412.0 L703.7 1400.8" stroke="#FFBA94" stroke-width="4.7" fill="none" stroke-linecap="round" stroke-linejoin="round"/>
<path d="M580.0 1561.5 L583.9 1559.6 L588.1 1556.7 L593.0 1552.5 L598.5 1547.2 L608.5 1536.5 L633.8 1507.8 L647.6 1492.7 L662.1 1477.7 L675.9 1464.5 L690.2 1451.8 L705.0 1439.8 L719.8 1428.9 L735.9 1418.0" stroke="#FFB4DE" stroke-width="4.7" fill="none" stroke-linecap="round" stroke-linejoin="round"/>
<path d="M194.0 1560.5 H205.6" stroke="#FF0000" stroke-width="4.5" stroke-linecap="round"/>
<path d="M211.5 1560.5 H223.0" stroke="#8000FF" stroke-width="4.5" stroke-linecap="round"/>
<path d="M240.5 1560.5 H257.8" stroke="#FF0080" stroke-width="4.5" stroke-linecap="round"/>
<path d="M281.0 1560.5 H286.8" stroke="#808080" stroke-width="4.5" stroke-linecap="round"/>
<path d="M312.0 1560.5 H340.0" stroke="#3CFF3C" stroke-width="4.5" stroke-linecap="round"/>
<path d="M347.0 1560.5 H368.0" stroke="#FF7070" stroke-width="4.5" stroke-linecap="round"/>
<path d="M389.5 1560.5 H412.6" stroke="#FF48AD" stroke-width="4.5" stroke-linecap="round"/>
<path d="M437.8 1560.5 H451.3" stroke="#5A78FF" stroke-width="4.5" stroke-linecap="round"/>
<path d="M477.0 1560.5 H501.0" stroke="#65A014" stroke-width="4.5" stroke-linecap="round"/>
<path d="M525.0 1560.5 H553.5" stroke="#FFBA94" stroke-width="4.5" stroke-linecap="round"/>
<path d="M571.0 1560.5 H590.0" stroke="#FFB4DE" stroke-width="4.5" stroke-linecap="round"/>
<path d="M192.0 1560.5 H195.0" stroke="#800080" stroke-width="4.5" stroke-linecap="round"/>
<path d="M993.8 1568.0 L994.1 1509.1 L994.2 1239.0" stroke="#FF0000" stroke-width="4.6" fill="none" stroke-linecap="round" stroke-dasharray="0 8.5"/>
<path d="M994.2 1239.0 L994.2 1233.3 L1003.6 1158.1 L1007.7 1128.4 L1010.9 1108.4 L1013.9 1092.3 L1017.2 1077.4 L1020.6 1063.6 L1025.0 1048.5 L1030.3 1032.6 L1036.0 1017.9 L1041.3 1006.2 L1047.0 995.7 L1053.0 986.5 L1058.4 979.6 L1065.1 972.9 L1070.0 968.8 L1076.3 964.7 L1081.7 961.9 L1088.4 959.1 L1095.4 957.0 L1104.0 955.0 L1112.9 953.6 L1122.2 952.6 L1143.4 951.2 L1172.8 950.5 L1320.9 949.9" stroke="#FF0000" stroke-width="4.6" fill="none" stroke-linecap="round" stroke-linejoin="round"/>
<path d="M994.5 1568.0 L994.8 1570.6 L995.1 1367.1 L995.5 1268.8" stroke="#00FF00" stroke-width="4.6" fill="none" stroke-linecap="round" stroke-dasharray="0 8.5"/>
<path d="M995.5 1268.8 L996.0 1241.2 L996.3 1233.5 L997.0 1227.3 L1013.5 1120.8 L1018.3 1094.0 L1023.0 1072.1 L1026.8 1057.4 L1030.1 1046.3 L1034.4 1034.4 L1038.9 1024.0 L1043.6 1014.9 L1048.6 1006.9 L1053.9 1000.0 L1060.4 993.0 L1066.2 987.9 L1073.4 982.8 L1079.8 979.1 L1087.6 975.4 L1095.8 972.3 L1105.7 969.5 L1116.0 967.3 L1126.8 965.5 L1138.1 964.1 L1151.4 962.9 L1183.1 960.8 L1228.7 958.8 L1323.4 955.2" stroke="#00FF00" stroke-width="4.6" fill="none" stroke-linecap="round" stroke-linejoin="round"/>
<path d="M995.0 1568.0 L995.2 1569.2 L995.5 1380.6 L996.1 1272.7" stroke="#0000FF" stroke-width="4.6" fill="none" stroke-linecap="round" stroke-dasharray="0 8.5"/>
<path d="M996.1 1272.7 L996.8 1238.8 L997.3 1231.5 L998.0 1225.0 L1016.6 1127.2 L1021.2 1104.9 L1025.5 1086.0 L1029.4 1070.8 L1032.9 1059.2 L1037.2 1046.6 L1041.0 1037.3 L1045.1 1029.1 L1050.1 1020.6 L1055.5 1013.6 L1061.1 1007.7 L1067.0 1002.8 L1074.2 998.2 L1081.9 994.3 L1089.9 991.2 L1099.5 988.1 L1110.8 985.1 L1124.1 982.3 L1138.2 979.8 L1154.5 977.4 L1171.7 975.3 L1189.7 973.4 L1210.4 971.5 L1258.8 968.2 L1325.1 964.6" stroke="#0000FF" stroke-width="4.6" fill="none" stroke-linecap="round" stroke-linejoin="round"/>
<path d="M995.5 1568.0 L996.0 1380.0 L996.7 1288.3" stroke="#00FFFF" stroke-width="4.6" fill="none" stroke-linecap="round" stroke-dasharray="0 8.5"/>
<path d="M996.7 1288.3 L997.5 1254.6 L998.2 1243.0 L999.3 1234.1 L1014.3 1155.2 L1019.3 1131.9 L1024.3 1112.3 L1028.2 1098.8 L1032.4 1086.6 L1036.8 1075.6 L1041.5 1065.8 L1046.5 1057.1 L1052.6 1048.2 L1059.0 1040.3 L1065.9 1033.5 L1073.0 1027.4 L1080.6 1022.1 L1088.5 1017.4 L1096.8 1013.3 L1105.4 1009.6 L1115.7 1006.1 L1126.5 1003.0 L1139.3 1000.1 L1151.1 997.8 L1165.0 995.6 L1198.0 991.4 L1243.3 986.8 L1329.1 978.8" stroke="#00FFFF" stroke-width="4.6" fill="none" stroke-linecap="round" stroke-linejoin="round"/>
<path d="M996.0 1568.0 L996.4 1395.1 L997.2 1285.1" stroke="#FF00FF" stroke-width="4.6" fill="none" stroke-linecap="round" stroke-dasharray="0 8.5"/>
<path d="M997.2 1285.1 L997.6 1263.4 L998.3 1242.9 L999.1 1231.9 L1000.0 1225.5 L1002.1 1217.2 L1014.3 1176.0 L1020.2 1156.6 L1025.3 1140.6 L1030.8 1124.8 L1036.0 1111.6 L1041.5 1099.3 L1047.3 1088.0 L1053.5 1077.9 L1060.0 1069.0 L1066.8 1061.2 L1074.1 1054.3 L1080.6 1049.2 L1088.5 1043.9 L1096.9 1039.2 L1105.5 1035.1 L1115.9 1031.0 L1126.8 1027.4 L1138.2 1024.2 L1151.5 1021.0 L1165.5 1018.1 L1180.0 1015.5 L1214.5 1010.3 L1259.6 1004.7 L1334.6 996.1" stroke="#FF00FF" stroke-width="4.6" fill="none" stroke-linecap="round" stroke-linejoin="round"/>
<path d="M996.5 1568.0 L997.0 1404.2 L997.5 1332.3 L998.1 1291.3" stroke="#808000" stroke-width="4.6" fill="none" stroke-linecap="round" stroke-dasharray="0 8.5"/>
<path d="M998.1 1291.3 L998.5 1271.5 L999.3 1251.6 L1000.1 1239.8 L1001.5 1230.7 L1003.4 1223.3 L1008.3 1208.0 L1015.2 1187.5 L1021.3 1170.7 L1027.4 1155.8 L1033.2 1143.1 L1039.5 1131.3 L1045.3 1121.8 L1051.5 1113.0 L1059.1 1103.9 L1067.0 1095.7 L1075.5 1088.3 L1083.3 1082.4 L1091.4 1077.0 L1099.9 1072.1 L1108.8 1067.6 L1118.0 1063.6 L1129.0 1059.4 L1140.5 1055.5 L1152.5 1052.0 L1165.0 1048.8 L1177.9 1045.7 L1210.4 1039.0 L1249.1 1031.7 L1339.5 1015.4" stroke="#808000" stroke-width="4.6" fill="none" stroke-linecap="round" stroke-linejoin="round"/>
<path d="M997.0 1568.0 L996.8 1567.4 L996.8 1563.2 L997.5 1415.7 L998.0 1353.4 L998.8 1307.4" stroke="#000080" stroke-width="4.6" fill="none" stroke-linecap="round" stroke-dasharray="0 8.5"/>
<path d="M998.8 1307.4 L999.3 1291.7 L1000.2 1275.4 L1001.2 1265.2 L1002.6 1256.5 L1005.5 1245.7 L1012.0 1225.5 L1017.8 1208.9 L1022.9 1195.7 L1027.8 1184.7 L1033.0 1174.5 L1037.8 1166.5 L1043.7 1157.9 L1050.0 1150.1 L1057.6 1141.9 L1065.7 1134.3 L1074.2 1127.2 L1083.2 1120.5 L1093.9 1113.4 L1105.1 1106.6 L1115.6 1100.9 L1126.5 1095.5 L1139.3 1089.8 L1152.7 1084.5 L1166.7 1079.5 L1179.7 1075.3 L1194.8 1070.9 L1212.2 1066.1 L1230.3 1061.6 L1272.5 1051.7 L1345.8 1035.7" stroke="#000080" stroke-width="4.6" fill="none" stroke-linecap="round" stroke-linejoin="round"/>
<path d="M997.5 1568.0 L997.2 1567.3 L997.3 1552.3 L998.1 1413.3 L999.0 1350.5 L1000.0 1317.1" stroke="#800080" stroke-width="4.6" fill="none" stroke-linecap="round" stroke-dasharray="0 8.5"/>
<path d="M1000.0 1317.1 L1000.6 1305.8 L1001.6 1293.8 L1003.1 1283.5 L1004.8 1276.3 L1008.5 1264.6 L1013.4 1252.0 L1018.3 1241.3 L1024.5 1229.5 L1033.5 1214.1 L1043.6 1198.6 L1053.6 1184.3 L1063.4 1171.5 L1072.8 1160.6 L1081.6 1151.5 L1090.9 1143.0 L1100.7 1135.3 L1107.0 1130.9 L1114.9 1126.0 L1123.0 1121.5 L1131.5 1117.3 L1140.2 1113.4 L1150.7 1109.3 L1161.7 1105.5 L1173.0 1101.9 L1194.9 1095.7 L1223.5 1088.6 L1354.4 1058.7" stroke="#800080" stroke-width="4.6" fill="none" stroke-linecap="round" stroke-linejoin="round"/>
<path d="M999.0 1568.0 L998.3 1566.7 L998.4 1556.3 L999.1 1471.6 L1000.0 1405.3 L1000.7 1376.9 L1001.5 1354.5 L1002.4 1338.2 L1003.6 1326.8" stroke="#800000" stroke-width="4.6" fill="none" stroke-linecap="round" stroke-dasharray="0 8.5"/>
<path d="M1003.6 1326.8 L1004.8 1318.8 L1006.6 1311.5 L1009.2 1304.6 L1013.1 1296.0 L1021.5 1279.3 L1029.6 1264.5 L1037.7 1251.0 L1046.5 1237.8 L1054.0 1227.5 L1062.0 1217.5 L1070.4 1207.9 L1079.3 1198.6 L1088.5 1189.7 L1097.1 1182.3 L1105.9 1175.3 L1115.1 1168.7 L1123.3 1163.4 L1131.8 1158.3 L1140.5 1153.6 L1149.5 1149.1 L1158.8 1144.9 L1168.3 1140.9 L1179.8 1136.5 L1191.7 1132.3 L1214.6 1124.9 L1242.5 1116.6 L1363.1 1083.6" stroke="#800000" stroke-width="4.6" fill="none" stroke-linecap="round" stroke-linejoin="round"/>
<path d="M995.0 1568.0 L995.7 1421.0 L996.2 1397.2 L996.9 1387.8" stroke="#008000" stroke-width="4.6" fill="none" stroke-linecap="round" stroke-dasharray="0 8.5"/>
<path d="M996.9 1387.8 L998.0 1382.2 L1003.8 1362.0 L1007.7 1349.5 L1011.1 1340.3 L1014.7 1331.8 L1018.0 1325.3 L1022.3 1318.1 L1026.9 1311.4 L1037.0 1298.5 L1055.1 1277.2 L1073.2 1256.5 L1088.3 1240.2 L1099.3 1229.1 L1110.8 1218.3 L1122.9 1208.0 L1134.1 1199.4 L1142.8 1193.2 L1151.8 1187.4 L1161.0 1181.8 L1172.2 1175.7 L1182.0 1170.8 L1193.8 1165.4 L1204.3 1161.0 L1216.8 1156.1 L1242.9 1147.0 L1272.4 1137.8 L1309.7 1127.2 L1373.7 1109.6" stroke="#008000" stroke-width="4.6" fill="none" stroke-linecap="round" stroke-linejoin="round"/>
<path d="M996.0 1568.0 L997.0 1570.1 L998.0 1484.3 L998.7 1462.3 L999.5 1447.0" stroke="#008080" stroke-width="4.6" fill="none" stroke-linecap="round" stroke-dasharray="0 8.5"/>
<path d="M999.5 1447.0 L1000.2 1440.1 L1001.0 1435.1 L1002.7 1428.5 L1005.2 1422.3 L1017.5 1394.6 L1025.6 1377.0 L1032.0 1364.4 L1039.0 1352.5 L1046.5 1341.6 L1052.5 1333.9 L1059.8 1325.5 L1067.6 1317.5 L1078.1 1307.4 L1092.9 1294.0 L1113.9 1275.6 L1133.4 1259.0 L1149.5 1245.9 L1163.1 1235.2 L1177.2 1224.7 L1190.1 1215.6 L1203.5 1206.8 L1217.2 1198.4 L1229.7 1191.4 L1242.4 1184.7 L1255.6 1178.4 L1269.1 1172.4 L1283.0 1166.8 L1297.3 1161.5 L1314.1 1155.8 L1331.4 1150.6 L1349.2 1145.7 L1367.6 1141.1 L1386.4 1136.7" stroke="#008080" stroke-width="4.6" fill="none" stroke-linecap="round" stroke-linejoin="round"/>
<path d="M999.9 1568.0 L1000.6 1568.8 L1002.2 1536.7 L1003.3 1523.8 L1004.4 1515.4 L1005.8 1508.5 L1007.4 1502.9 L1009.8 1496.8 L1013.8 1488.7" stroke="#FF8000" stroke-width="4.6" fill="none" stroke-linecap="round" stroke-dasharray="0 8.5"/>
<path d="M1013.8 1488.7 L1022.6 1470.6 L1038.7 1434.1 L1046.7 1417.1 L1051.4 1408.1 L1056.3 1399.5 L1060.4 1392.9 L1065.7 1385.0 L1071.2 1377.5 L1078.1 1369.0 L1085.2 1360.9 L1093.9 1351.8 L1103.0 1342.9 L1113.7 1332.8 L1124.8 1322.9 L1137.7 1311.8 L1151.0 1300.9 L1163.3 1291.3 L1175.9 1281.8 L1187.3 1273.8 L1199.0 1265.9 L1211.0 1258.2 L1223.3 1250.7 L1237.7 1242.3 L1263.9 1228.2 L1295.2 1212.7 L1325.8 1198.3 L1398.5 1164.9" stroke="#FF8000" stroke-width="4.6" fill="none" stroke-linecap="round" stroke-linejoin="round"/>
<path d="M1024.7 1569.0 L1024.3 1568.9 L1025.9 1562.1 L1030.6 1544.8" stroke="#8000FF" stroke-width="4.6" fill="none" stroke-linecap="round" stroke-dasharray="0 8.5"/>
<path d="M1030.6 1544.8 L1035.4 1529.3 L1041.5 1511.6 L1047.7 1494.5 L1053.1 1480.9 L1058.1 1469.4 L1063.5 1458.3 L1069.2 1447.6 L1075.3 1437.3 L1082.8 1425.8 L1091.9 1413.2 L1102.6 1399.2 L1115.1 1384.0 L1126.8 1370.4 L1139.0 1357.1 L1150.2 1345.5 L1161.9 1334.3 L1170.9 1326.2 L1180.2 1318.4 L1189.8 1310.9 L1199.6 1303.6 L1209.8 1296.6 L1220.2 1289.9 L1230.8 1283.4 L1241.7 1277.1 L1260.5 1266.9 L1283.8 1255.1 L1372.7 1212.7 L1413.8 1192.5" stroke="#8000FF" stroke-width="4.6" fill="none" stroke-linecap="round" stroke-linejoin="round"/>
<path d="M1060.6 1569.0 L1060.3 1569.0 L1061.7 1563.2 L1066.3 1546.4 L1070.2 1533.9 L1074.4 1522.3 L1078.9 1511.4 L1083.3 1501.8 L1089.0 1490.4 L1094.4 1480.6 L1101.3 1469.4 L1108.6 1458.3 L1116.5 1447.5 L1124.7 1436.8 L1133.4 1426.4 L1142.4 1416.3 L1150.5 1407.9 L1160.4 1398.3 L1169.1 1390.3 L1178.1 1382.5 L1196.9 1367.6 L1220.1 1350.8 L1247.9 1332.0 L1299.2 1299.2 L1353.4 1265.6 L1394.0 1241.5 L1412.8 1230.8 L1429.8 1221.5" stroke="#FF0080" stroke-width="4.6" fill="none" stroke-linecap="round" stroke-linejoin="round"/>
<path d="M1104.0 1569.0 L1103.0 1568.9 L1107.4 1556.4 L1113.4 1541.2 L1119.7 1526.5 L1125.2 1514.7 L1131.0 1503.4 L1136.7 1493.1 L1143.0 1482.5 L1148.9 1473.3 L1155.2 1464.2 L1162.0 1455.1 L1169.1 1446.2 L1176.6 1437.5 L1183.2 1430.3 L1191.4 1422.0 L1200.0 1413.8 L1208.9 1405.8 L1218.1 1398.0 L1229.2 1389.2 L1240.7 1380.4 L1268.0 1360.9 L1302.1 1338.0 L1343.5 1311.4 L1382.8 1287.3 L1417.7 1267.2 L1434.7 1257.9 L1449.8 1250.0" stroke="#808080" stroke-width="4.6" fill="none" stroke-linecap="round" stroke-linejoin="round"/>
<path d="M1148.7 1569.0 L1147.4 1569.0 L1149.6 1563.6 L1155.8 1549.1 L1162.7 1534.9 L1168.2 1524.5 L1173.5 1515.2 L1179.6 1505.4 L1185.6 1496.4 L1192.3 1487.1 L1198.5 1479.1 L1205.2 1471.0 L1212.2 1462.9 L1219.7 1454.8 L1227.5 1446.8 L1235.7 1438.8 L1245.7 1429.6 L1256.1 1420.5 L1266.8 1411.4 L1290.9 1392.2 L1316.5 1373.3 L1343.4 1354.7 L1371.5 1336.4 L1400.7 1318.4 L1433.2 1299.4 L1471.0 1278.3" stroke="#EBAEFF" stroke-width="4.6" fill="none" stroke-linecap="round" stroke-linejoin="round"/>
<path d="M1195.8 1569.0 L1194.0 1568.9 L1200.7 1554.6 L1207.5 1541.2 L1213.2 1531.1 L1219.1 1521.2 L1224.6 1512.6 L1230.9 1503.4 L1242.9 1487.6 L1255.9 1472.4 L1263.1 1464.8 L1270.7 1457.1 L1285.7 1443.2 L1301.9 1429.5 L1320.9 1414.9 L1341.1 1400.4 L1364.0 1384.9 L1391.6 1367.2 L1424.2 1347.1 L1460.0 1325.7 L1495.0 1305.4" stroke="#CCF590" stroke-width="4.6" fill="none" stroke-linecap="round" stroke-linejoin="round"/>
<path d="M1247.8 1569.0 L1245.7 1569.0 L1252.4 1558.2 L1259.1 1548.0 L1265.8 1538.3 L1272.7 1528.9 L1280.4 1519.1 L1287.6 1510.4 L1301.5 1494.5 L1316.7 1478.7 L1333.8 1462.1 L1351.4 1446.4 L1371.9 1429.2 L1392.2 1413.1 L1413.9 1397.0 L1435.0 1382.3 L1457.1 1367.9 L1478.4 1354.9 L1500.6 1342.3 L1521.8 1331.3" stroke="#A8FFFF" stroke-width="4.6" fill="none" stroke-linecap="round" stroke-linejoin="round"/>
<path d="M1299.9 1569.0 L1297.2 1569.0 L1302.3 1562.2 L1317.1 1544.0 L1332.9 1526.3 L1345.9 1512.8 L1360.4 1498.6 L1375.9 1484.4 L1391.9 1470.5 L1410.7 1454.8 L1429.5 1439.9 L1449.4 1424.6 L1470.5 1409.1 L1490.9 1394.6 L1510.5 1381.3 L1530.8 1368.0 L1550.0 1356.1" stroke="#FFAED8" stroke-width="4.6" fill="none" stroke-linecap="round" stroke-linejoin="round"/>
<path d="M1016.8 1568.6 H1028.9" stroke="#8000FF" stroke-width="4.2" stroke-linecap="round"/>
<path d="M1054.0 1568.6 H1062.4" stroke="#FF0080" stroke-width="4.2" stroke-linecap="round"/>
<path d="M1096.0 1568.6 H1112.0" stroke="#808080" stroke-width="4.2" stroke-linecap="round"/>
<path d="M1140.7 1568.6 H1151.6" stroke="#EBAEFF" stroke-width="4.2" stroke-linecap="round"/>
<path d="M1185.4 1568.6 H1203.7" stroke="#CCF590" stroke-width="4.2" stroke-linecap="round"/>
<path d="M1230.0 1568.6 H1253.2" stroke="#A8FFFF" stroke-width="4.2" stroke-linecap="round"/>
<path d="M1284.5 1568.6 H1320.2" stroke="#FFAED8" stroke-width="4.2" stroke-linecap="round"/>
<rect x="156.0" y="48.0" width="639.8" height="655.0" fill="none" stroke="#000" stroke-width="3.6"/>
<path d="M156.00 703.00 V710.20 M209.32 703.00 V706.80 M262.63 703.00 V710.20 M315.95 703.00 V706.80 M369.27 703.00 V710.20 M422.58 703.00 V706.80 M475.90 703.00 V710.20 M529.22 703.00 V706.80 M582.53 703.00 V710.20 M635.85 703.00 V706.80 M689.17 703.00 V710.20 M742.48 703.00 V706.80 M795.80 703.00 V710.20" stroke="#000" stroke-width="3.6" fill="none"/>
<path d="M156.00 703.00 H148.80 M156.00 593.83 H148.80 M156.00 484.67 H148.80 M156.00 375.50 H148.80 M156.00 266.33 H148.80 M156.00 157.17 H148.80 M156.00 48.00 H148.80 M156.00 648.42 H152.20 M156.00 539.25 H152.20 M156.00 430.08 H152.20 M156.00 320.92 H152.20 M156.00 211.75 H152.20 M156.00 102.58 H152.20" stroke="#000" stroke-width="3.6" fill="none"/>
<text x="147.6" y="719.9" font-family="'Liberation Sans', Arial, sans-serif" font-size="42.0" font-weight="normal" font-style="normal" text-anchor="end" transform="matrix(1 0 0 1.035 0 -25.20)">0</text>
<text x="147.6" y="610.7" font-family="'Liberation Sans', Arial, sans-serif" font-size="42.0" font-weight="normal" font-style="normal" text-anchor="end" transform="matrix(1 0 0 1.035 0 -21.38)">15</text>
<text x="147.6" y="501.6" font-family="'Liberation Sans', Arial, sans-serif" font-size="42.0" font-weight="normal" font-style="normal" text-anchor="end" transform="matrix(1 0 0 1.035 0 -17.55)">30</text>
<text x="147.6" y="392.4" font-family="'Liberation Sans', Arial, sans-serif" font-size="42.0" font-weight="normal" font-style="normal" text-anchor="end" transform="matrix(1 0 0 1.035 0 -13.73)">45</text>
<text x="147.6" y="283.2" font-family="'Liberation Sans', Arial, sans-serif" font-size="42.0" font-weight="normal" font-style="normal" text-anchor="end" transform="matrix(1 0 0 1.035 0 -9.91)">60</text>
<text x="147.6" y="174.1" font-family="'Liberation Sans', Arial, sans-serif" font-size="42.0" font-weight="normal" font-style="normal" text-anchor="end" transform="matrix(1 0 0 1.035 0 -6.09)">75</text>
<text x="147.6" y="64.9" font-family="'Liberation Sans', Arial, sans-serif" font-size="42.0" font-weight="normal" font-style="normal" text-anchor="end" transform="matrix(1 0 0 1.035 0 -2.27)">90</text>
<text x="156.0" y="748.4" font-family="'Liberation Sans', Arial, sans-serif" font-size="42.0" font-weight="normal" font-style="normal" text-anchor="middle" transform="matrix(1 0 0 1.035 0 -26.19)">0</text>
<text x="262.6" y="748.4" font-family="'Liberation Sans', Arial, sans-serif" font-size="42.0" font-weight="normal" font-style="normal" text-anchor="middle" transform="matrix(1 0 0 1.035 0 -26.19)">1</text>
<text x="369.3" y="748.4" font-family="'Liberation Sans', Arial, sans-serif" font-size="42.0" font-weight="normal" font-style="normal" text-anchor="middle" transform="matrix(1 0 0 1.035 0 -26.19)">2</text>
<text x="475.9" y="748.4" font-family="'Liberation Sans', Arial, sans-serif" font-size="42.0" font-weight="normal" font-style="normal" text-anchor="middle" transform="matrix(1 0 0 1.035 0 -26.19)">3</text>
<text x="582.5" y="748.4" font-family="'Liberation Sans', Arial, sans-serif" font-size="42.0" font-weight="normal" font-style="normal" text-anchor="middle" transform="matrix(1 0 0 1.035 0 -26.19)">4</text>
<text x="689.2" y="748.4" font-family="'Liberation Sans', Arial, sans-serif" font-size="42.0" font-weight="normal" font-style="normal" text-anchor="middle" transform="matrix(1 0 0 1.035 0 -26.19)">5</text>
<text x="795.8" y="748.4" font-family="'Liberation Sans', Arial, sans-serif" font-size="42.0" font-weight="normal" font-style="normal" text-anchor="middle" transform="matrix(1 0 0 1.035 0 -26.19)">6</text>
<rect x="990.0" y="45.0" width="640.0" height="660.0" fill="none" stroke="#000" stroke-width="3.6"/>
<path d="M990.00 705.00 V712.20 M1043.33 705.00 V708.80 M1096.67 705.00 V712.20 M1150.00 705.00 V708.80 M1203.33 705.00 V712.20 M1256.67 705.00 V708.80 M1310.00 705.00 V712.20 M1363.33 705.00 V708.80 M1416.67 705.00 V712.20 M1470.00 705.00 V708.80 M1523.33 705.00 V712.20 M1576.67 705.00 V708.80 M1630.00 705.00 V712.20" stroke="#000" stroke-width="3.6" fill="none"/>
<path d="M990.00 705.00 H982.80 M990.00 601.75 H982.80 M990.00 498.51 H982.80 M990.00 395.26 H982.80 M990.00 292.02 H982.80 M990.00 188.77 H982.80 M990.00 85.53 H982.80 M990.00 653.38 H986.20 M990.00 550.13 H986.20 M990.00 446.89 H986.20 M990.00 343.64 H986.20 M990.00 240.40 H986.20 M990.00 137.15 H986.20" stroke="#000" stroke-width="3.6" fill="none"/>
<text x="977.6" y="717.6" font-family="'Liberation Sans', Arial, sans-serif" font-size="41.5" font-weight="normal" font-style="normal" text-anchor="end" transform="matrix(1 0 0 1.035 0 -25.12)">0</text>
<text x="977.6" y="614.4" font-family="'Liberation Sans', Arial, sans-serif" font-size="41.5" font-weight="normal" font-style="normal" text-anchor="end" transform="matrix(1 0 0 1.035 0 -21.50)">15</text>
<text x="977.6" y="511.1" font-family="'Liberation Sans', Arial, sans-serif" font-size="41.5" font-weight="normal" font-style="normal" text-anchor="end" transform="matrix(1 0 0 1.035 0 -17.89)">30</text>
<text x="977.6" y="407.9" font-family="'Liberation Sans', Arial, sans-serif" font-size="41.5" font-weight="normal" font-style="normal" text-anchor="end" transform="matrix(1 0 0 1.035 0 -14.28)">45</text>
<text x="977.6" y="304.6" font-family="'Liberation Sans', Arial, sans-serif" font-size="41.5" font-weight="normal" font-style="normal" text-anchor="end" transform="matrix(1 0 0 1.035 0 -10.66)">60</text>
<text x="977.6" y="201.4" font-family="'Liberation Sans', Arial, sans-serif" font-size="41.5" font-weight="normal" font-style="normal" text-anchor="end" transform="matrix(1 0 0 1.035 0 -7.05)">75</text>
<text x="977.6" y="98.1" font-family="'Liberation Sans', Arial, sans-serif" font-size="41.5" font-weight="normal" font-style="normal" text-anchor="end" transform="matrix(1 0 0 1.035 0 -3.43)">90</text>
<text x="990.0" y="749.2" font-family="'Liberation Sans', Arial, sans-serif" font-size="41.5" font-weight="normal" font-style="normal" text-anchor="middle" transform="matrix(1 0 0 1.035 0 -26.22)">0</text>
<text x="1096.7" y="749.2" font-family="'Liberation Sans', Arial, sans-serif" font-size="41.5" font-weight="normal" font-style="normal" text-anchor="middle" transform="matrix(1 0 0 1.035 0 -26.22)">1</text>
<text x="1203.3" y="749.2" font-family="'Liberation Sans', Arial, sans-serif" font-size="41.5" font-weight="normal" font-style="normal" text-anchor="middle" transform="matrix(1 0 0 1.035 0 -26.22)">2</text>
<text x="1310.0" y="749.2" font-family="'Liberation Sans', Arial, sans-serif" font-size="41.5" font-weight="normal" font-style="normal" text-anchor="middle" transform="matrix(1 0 0 1.035 0 -26.22)">3</text>
<text x="1416.7" y="749.2" font-family="'Liberation Sans', Arial, sans-serif" font-size="41.5" font-weight="normal" font-style="normal" text-anchor="middle" transform="matrix(1 0 0 1.035 0 -26.22)">4</text>
<text x="1523.3" y="749.2" font-family="'Liberation Sans', Arial, sans-serif" font-size="41.5" font-weight="normal" font-style="normal" text-anchor="middle" transform="matrix(1 0 0 1.035 0 -26.22)">5</text>
<text x="1630.0" y="749.2" font-family="'Liberation Sans', Arial, sans-serif" font-size="41.5" font-weight="normal" font-style="normal" text-anchor="middle" transform="matrix(1 0 0 1.035 0 -26.22)">6</text>
<rect x="165.8" y="915.2" width="631.8" height="649.0" fill="none" stroke="#000" stroke-width="3.6"/>
<path d="M165.80 1564.20 V1571.40 M210.93 1564.20 V1568.00 M256.06 1564.20 V1571.40 M301.19 1564.20 V1568.00 M346.31 1564.20 V1571.40 M391.44 1564.20 V1568.00 M436.57 1564.20 V1571.40 M481.70 1564.20 V1568.00 M526.83 1564.20 V1571.40 M571.96 1564.20 V1568.00 M617.09 1564.20 V1571.40 M662.21 1564.20 V1568.00 M707.34 1564.20 V1571.40 M752.47 1564.20 V1568.00 M797.60 1564.20 V1571.40" stroke="#000" stroke-width="3.6" fill="none"/>
<path d="M165.80 1564.20 H158.60 M165.80 1471.49 H158.60 M165.80 1378.77 H158.60 M165.80 1286.06 H158.60 M165.80 1193.34 H158.60 M165.80 1100.63 H158.60 M165.80 1007.91 H158.60 M165.80 915.20 H158.60 M165.80 1517.84 H162.00 M165.80 1425.13 H162.00 M165.80 1332.41 H162.00 M165.80 1239.70 H162.00 M165.80 1146.99 H162.00 M165.80 1054.27 H162.00 M165.80 961.56 H162.00" stroke="#000" stroke-width="3.6" fill="none"/>
<text x="153.4" y="1576.8" font-family="'Liberation Sans', Arial, sans-serif" font-size="41.5" font-weight="normal" font-style="normal" text-anchor="end" transform="matrix(1 0 0 1.035 0 -55.19)">0</text>
<text x="153.4" y="1484.1" font-family="'Liberation Sans', Arial, sans-serif" font-size="41.5" font-weight="normal" font-style="normal" text-anchor="end" transform="matrix(1 0 0 1.035 0 -51.94)">1</text>
<text x="153.4" y="1391.4" font-family="'Liberation Sans', Arial, sans-serif" font-size="41.5" font-weight="normal" font-style="normal" text-anchor="end" transform="matrix(1 0 0 1.035 0 -48.70)">2</text>
<text x="153.4" y="1298.7" font-family="'Liberation Sans', Arial, sans-serif" font-size="41.5" font-weight="normal" font-style="normal" text-anchor="end" transform="matrix(1 0 0 1.035 0 -45.45)">3</text>
<text x="153.4" y="1205.9" font-family="'Liberation Sans', Arial, sans-serif" font-size="41.5" font-weight="normal" font-style="normal" text-anchor="end" transform="matrix(1 0 0 1.035 0 -42.21)">4</text>
<text x="153.4" y="1113.2" font-family="'Liberation Sans', Arial, sans-serif" font-size="41.5" font-weight="normal" font-style="normal" text-anchor="end" transform="matrix(1 0 0 1.035 0 -38.96)">5</text>
<text x="153.4" y="1020.5" font-family="'Liberation Sans', Arial, sans-serif" font-size="41.5" font-weight="normal" font-style="normal" text-anchor="end" transform="matrix(1 0 0 1.035 0 -35.72)">6</text>
<text x="153.4" y="927.8" font-family="'Liberation Sans', Arial, sans-serif" font-size="41.5" font-weight="normal" font-style="normal" text-anchor="end" transform="matrix(1 0 0 1.035 0 -32.47)">7</text>
<text x="165.8" y="1608.6" font-family="'Liberation Sans', Arial, sans-serif" font-size="41.5" font-weight="normal" font-style="normal" text-anchor="middle" transform="matrix(1 0 0 1.035 0 -56.30)">0</text>
<text x="256.1" y="1608.6" font-family="'Liberation Sans', Arial, sans-serif" font-size="41.5" font-weight="normal" font-style="normal" text-anchor="middle" transform="matrix(1 0 0 1.035 0 -56.30)">2</text>
<text x="346.3" y="1608.6" font-family="'Liberation Sans', Arial, sans-serif" font-size="41.5" font-weight="normal" font-style="normal" text-anchor="middle" transform="matrix(1 0 0 1.035 0 -56.30)">4</text>
<text x="436.6" y="1608.6" font-family="'Liberation Sans', Arial, sans-serif" font-size="41.5" font-weight="normal" font-style="normal" text-anchor="middle" transform="matrix(1 0 0 1.035 0 -56.30)">6</text>
<text x="526.8" y="1608.6" font-family="'Liberation Sans', Arial, sans-serif" font-size="41.5" font-weight="normal" font-style="normal" text-anchor="middle" transform="matrix(1 0 0 1.035 0 -56.30)">8</text>
<text x="617.1" y="1608.6" font-family="'Liberation Sans', Arial, sans-serif" font-size="41.5" font-weight="normal" font-style="normal" text-anchor="middle" transform="matrix(1 0 0 1.035 0 -56.30)">10</text>
<text x="707.3" y="1608.6" font-family="'Liberation Sans', Arial, sans-serif" font-size="41.5" font-weight="normal" font-style="normal" text-anchor="middle" transform="matrix(1 0 0 1.035 0 -56.30)">12</text>
<text x="797.6" y="1608.6" font-family="'Liberation Sans', Arial, sans-serif" font-size="41.5" font-weight="normal" font-style="normal" text-anchor="middle" transform="matrix(1 0 0 1.035 0 -56.30)">14</text>
<rect x="994.1" y="913.3" width="637.9" height="658.5" fill="none" stroke="#000" stroke-width="3.6"/>
<path d="M994.10 1571.80 V1579.00 M1047.26 1571.80 V1575.60 M1100.42 1571.80 V1579.00 M1153.58 1571.80 V1575.60 M1206.73 1571.80 V1579.00 M1259.89 1571.80 V1575.60 M1313.05 1571.80 V1579.00 M1366.21 1571.80 V1575.60 M1419.37 1571.80 V1579.00 M1472.53 1571.80 V1575.60 M1525.68 1571.80 V1579.00 M1578.84 1571.80 V1575.60 M1632.00 1571.80 V1579.00" stroke="#000" stroke-width="3.6" fill="none"/>
<path d="M994.10 1571.80 H986.90 M994.10 1477.73 H986.90 M994.10 1383.66 H986.90 M994.10 1289.59 H986.90 M994.10 1195.51 H986.90 M994.10 1101.44 H986.90 M994.10 1007.37 H986.90 M994.10 913.30 H986.90 M994.10 1540.44 H990.30 M994.10 1509.09 H990.30 M994.10 1446.37 H990.30 M994.10 1415.01 H990.30 M994.10 1352.30 H990.30 M994.10 1320.94 H990.30 M994.10 1258.23 H990.30 M994.10 1226.87 H990.30 M994.10 1164.16 H990.30 M994.10 1132.80 H990.30 M994.10 1070.09 H990.30 M994.10 1038.73 H990.30 M994.10 976.01 H990.30 M994.10 944.66 H990.30" stroke="#000" stroke-width="3.6" fill="none"/>
<text x="982.4" y="1583.8" font-family="'Liberation Sans', Arial, sans-serif" font-size="41.5" font-weight="normal" font-style="normal" text-anchor="end" transform="matrix(1 0 0 1.035 0 -55.43)">0</text>
<text x="982.4" y="1489.7" font-family="'Liberation Sans', Arial, sans-serif" font-size="41.5" font-weight="normal" font-style="normal" text-anchor="end" transform="matrix(1 0 0 1.035 0 -52.14)">1</text>
<text x="982.4" y="1395.7" font-family="'Liberation Sans', Arial, sans-serif" font-size="41.5" font-weight="normal" font-style="normal" text-anchor="end" transform="matrix(1 0 0 1.035 0 -48.85)">2</text>
<text x="982.4" y="1301.6" font-family="'Liberation Sans', Arial, sans-serif" font-size="41.5" font-weight="normal" font-style="normal" text-anchor="end" transform="matrix(1 0 0 1.035 0 -45.56)">3</text>
<text x="982.4" y="1207.5" font-family="'Liberation Sans', Arial, sans-serif" font-size="41.5" font-weight="normal" font-style="normal" text-anchor="end" transform="matrix(1 0 0 1.035 0 -42.26)">4</text>
<text x="982.4" y="1113.4" font-family="'Liberation Sans', Arial, sans-serif" font-size="41.5" font-weight="normal" font-style="normal" text-anchor="end" transform="matrix(1 0 0 1.035 0 -38.97)">5</text>
<text x="982.4" y="1019.4" font-family="'Liberation Sans', Arial, sans-serif" font-size="41.5" font-weight="normal" font-style="normal" text-anchor="end" transform="matrix(1 0 0 1.035 0 -35.68)">6</text>
<text x="982.4" y="925.3" font-family="'Liberation Sans', Arial, sans-serif" font-size="41.5" font-weight="normal" font-style="normal" text-anchor="end" transform="matrix(1 0 0 1.035 0 -32.39)">7</text>
<text x="994.1" y="1615.7" font-family="'Liberation Sans', Arial, sans-serif" font-size="41.5" font-weight="normal" font-style="normal" text-anchor="middle" transform="matrix(1 0 0 1.035 0 -56.55)">0</text>
<text x="1100.4" y="1615.7" font-family="'Liberation Sans', Arial, sans-serif" font-size="41.5" font-weight="normal" font-style="normal" text-anchor="middle" transform="matrix(1 0 0 1.035 0 -56.55)">2</text>
<text x="1206.7" y="1615.7" font-family="'Liberation Sans', Arial, sans-serif" font-size="41.5" font-weight="normal" font-style="normal" text-anchor="middle" transform="matrix(1 0 0 1.035 0 -56.55)">4</text>
<text x="1313.0" y="1615.7" font-family="'Liberation Sans', Arial, sans-serif" font-size="41.5" font-weight="normal" font-style="normal" text-anchor="middle" transform="matrix(1 0 0 1.035 0 -56.55)">6</text>
<text x="1419.4" y="1615.7" font-family="'Liberation Sans', Arial, sans-serif" font-size="41.5" font-weight="normal" font-style="normal" text-anchor="middle" transform="matrix(1 0 0 1.035 0 -56.55)">8</text>
<text x="1525.7" y="1615.7" font-family="'Liberation Sans', Arial, sans-serif" font-size="41.5" font-weight="normal" font-style="normal" text-anchor="middle" transform="matrix(1 0 0 1.035 0 -56.55)">10</text>
<text x="1632.0" y="1615.7" font-family="'Liberation Sans', Arial, sans-serif" font-size="41.5" font-weight="normal" font-style="normal" text-anchor="middle" transform="matrix(1 0 0 1.035 0 -56.55)">12</text>
<text x="-1.8" y="49.7" font-family="'Liberation Sans', Arial, sans-serif" font-size="58.5" font-weight="bold" font-style="normal" text-anchor="start" transform="matrix(1 0 0 1.000 0 0.00)">(a)</text>
<text x="828.7" y="46.6" font-family="'Liberation Sans', Arial, sans-serif" font-size="62.0" font-weight="bold" font-style="normal" text-anchor="start" transform="matrix(1 0 0 1.000 0 0.00)">(b)</text>
<text x="9.8" y="922.7" font-family="'Liberation Sans', Arial, sans-serif" font-size="58.5" font-weight="bold" font-style="normal" text-anchor="start" transform="matrix(1 0 0 1.000 0 0.00)">(c)</text>
<text x="834.7" y="922.5" font-family="'Liberation Sans', Arial, sans-serif" font-size="62.0" font-weight="bold" font-style="normal" text-anchor="start" transform="matrix(1 0 0 1.000 0 0.00)">(d)</text>
<text x="172.5" y="120.8" font-family="'Liberation Sans', Arial, sans-serif" font-size="53.2" font-weight="bold" transform="matrix(1 0 0 1.030 0 -3.62)">EuIn<tspan dy="9.7">2</tspan><tspan dy="-9.7">P</tspan><tspan dy="9.7">2</tspan></text>
<text x="179.5" y="168.7" font-family="'Liberation Sans', Arial, sans-serif" font-size="45.4" font-weight="bold" font-style="italic" transform="matrix(1 0 0 1.040 0 -6.75)">H<tspan font-weight="normal" font-style="normal" font-family="'DejaVu Math TeX Gyre', 'DejaVu Sans', serif" font-size="49.5" dy="2.5">&#8214;</tspan><tspan dy="-2.5">c</tspan></text>
<text x="1004.7" y="101.6" font-family="'Liberation Sans', Arial, sans-serif" font-size="51.9" font-weight="bold" transform="matrix(1 0 0 1.040 0 -4.06)">EuIn<tspan dy="9.7">2</tspan><tspan dy="-9.7">P</tspan><tspan dy="9.7">2</tspan></text>
<text x="1009.5" y="144.7" font-family="'Liberation Sans', Arial, sans-serif" font-size="46.5" font-weight="bold" font-style="italic" transform="matrix(1 0 0 1.040 0 -5.79)">H<tspan font-weight="normal" font-style="normal" font-family="'DejaVu Math TeX Gyre', 'DejaVu Sans', serif" font-size="50.7" dy="2.5">&#8214;</tspan><tspan dy="-2.5">ab</tspan></text>
<text x="564.7" y="974.2" font-family="'Liberation Sans', Arial, sans-serif" font-size="52.2" font-weight="bold" transform="matrix(1 0 0 1.050 0 -48.71)">EuIn<tspan dy="9.8">2</tspan><tspan dy="-9.8">P</tspan><tspan dy="9.8">2</tspan></text>
<text x="607.3" y="1026.9" font-family="'Liberation Sans', Arial, sans-serif" font-size="46.5" font-weight="bold" font-style="italic" transform="matrix(1 0 0 1.040 0 -41.08)">H<tspan font-weight="normal" font-style="normal" font-family="'DejaVu Math TeX Gyre', 'DejaVu Sans', serif" font-size="50.7" dy="2.5">&#8214;</tspan><tspan dy="-2.5">c</tspan></text>
<text x="1408.2" y="975.6" font-family="'Liberation Sans', Arial, sans-serif" font-size="52.3" font-weight="bold" transform="matrix(1 0 0 1.040 0 -39.02)">EuIn<tspan dy="9.8">2</tspan><tspan dy="-9.8">P</tspan><tspan dy="9.8">2</tspan></text>
<text x="1446.0" y="1025.0" font-family="'Liberation Sans', Arial, sans-serif" font-size="46.5" font-weight="bold" font-style="italic" transform="matrix(1 0 0 1.040 0 -41.00)">H<tspan font-weight="normal" font-style="normal" font-family="'DejaVu Math TeX Gyre', 'DejaVu Sans', serif" font-size="50.7" dy="2.5">&#8214;</tspan><tspan dy="-2.5">ab</tspan></text>
<text transform="translate(75.6 340.6) rotate(-90)" font-family="'Liberation Sans', Arial, sans-serif" font-size="53.0" text-anchor="middle" textLength="245.5" lengthAdjust="spacing"><tspan font-style="italic">M</tspan> (emu/g)</text>
<text transform="translate(907.0 332.3) rotate(-90)" font-family="'Liberation Sans', Arial, sans-serif" font-size="53.0" text-anchor="middle"><tspan font-style="italic">M</tspan> (emu/g)</text>
<text x="373.8" y="823.5" font-family="'Liberation Sans', Arial, sans-serif" font-size="53.6"><tspan font-family="'Liberation Serif', 'Times New Roman', serif">&#956;</tspan><tspan font-family="'Liberation Serif', 'Times New Roman', serif" font-size="36.4" dy="14">0</tspan><tspan dy="-14" font-style="italic">H</tspan> (T)</text>
<text x="1246.2" y="824.7" font-family="'Liberation Sans', Arial, sans-serif" font-size="54.0"><tspan font-family="'Liberation Serif', 'Times New Roman', serif">&#956;</tspan><tspan font-family="'Liberation Serif', 'Times New Roman', serif" font-size="36.7" dy="14">0</tspan><tspan dy="-14" font-style="italic">H</tspan> (T)</text>
<text transform="translate(80.0 1239.6) rotate(-90)" font-family="'Liberation Sans', Arial, sans-serif" font-size="51.8" text-anchor="middle"><tspan font-style="italic">M</tspan><tspan font-family="'Liberation Serif', 'Times New Roman', serif" font-size="37.3" dy="-20" dx="7">2</tspan><tspan font-family="'Liberation Serif', 'Times New Roman', serif" dy="20">(&#215;10</tspan><tspan font-family="'Liberation Serif', 'Times New Roman', serif" font-size="37.3" dy="-20">3</tspan><tspan dy="20" dx="-6"> emu/g)</tspan><tspan font-family="'Liberation Serif', 'Times New Roman', serif" font-size="37.3" dy="-20">2</tspan></text>
<text transform="translate(906.6 1225.4) rotate(-90)" font-family="'Liberation Sans', Arial, sans-serif" font-size="51.8" text-anchor="middle"><tspan font-style="italic">M</tspan><tspan font-family="'Liberation Serif', 'Times New Roman', serif" font-size="37.3" dy="-20" dx="7">2</tspan><tspan font-family="'Liberation Serif', 'Times New Roman', serif" dy="20">(&#215;10</tspan><tspan font-family="'Liberation Serif', 'Times New Roman', serif" font-size="37.3" dy="-20">3</tspan><tspan dy="20" dx="-6"> emu/g)</tspan><tspan font-family="'Liberation Serif', 'Times New Roman', serif" font-size="37.3" dy="-20">2</tspan></text>
<text x="231.9" y="1682.9" font-family="'Liberation Sans', Arial, sans-serif" font-size="50.8"><tspan font-family="'Liberation Serif', 'Times New Roman', serif">&#956;</tspan><tspan font-family="'Liberation Serif', 'Times New Roman', serif" font-size="34.5" dy="14">0</tspan><tspan dy="-14" font-style="italic">H/M</tspan><tspan font-family="'Liberation Serif', 'Times New Roman', serif"> (&#215;10</tspan><tspan font-family="'Liberation Serif', 'Times New Roman', serif" font-size="34.5" dy="-17">&#8722;2</tspan><tspan dy="17"> T g/emu)</tspan></text>
<text x="1069.8" y="1686.6" font-family="'Liberation Sans', Arial, sans-serif" font-size="50.9"><tspan font-family="'Liberation Serif', 'Times New Roman', serif">&#956;</tspan><tspan font-family="'Liberation Serif', 'Times New Roman', serif" font-size="34.6" dy="14">0</tspan><tspan dy="-14" font-style="italic">H/M</tspan><tspan font-family="'Liberation Serif', 'Times New Roman', serif"> (&#215;10</tspan><tspan font-family="'Liberation Serif', 'Times New Roman', serif" font-size="34.6" dy="-17">&#8722;2</tspan><tspan dy="17"> T g/emu)</tspan></text>
<text transform="translate(743.6 88.2) rotate(90)" font-family="'Liberation Sans', Arial, sans-serif" font-size="32.8" font-weight="bold" textLength="335.0" lengthAdjust="spacingAndGlyphs">2 K <tspan font-weight="normal" font-family="'DejaVu Math TeX Gyre', 'DejaVu Sans', serif">&#8594;</tspan> <tspan font-weight="normal" font-family="'Liberation Serif', 'Times New Roman', serif">&#916;</tspan><tspan font-style="italic">T</tspan> = 2 K <tspan font-weight="normal" font-family="'DejaVu Math TeX Gyre', 'DejaVu Sans', serif">&#8594;</tspan> 42 K</text>
<text transform="translate(1569.8 79.4) rotate(90)" font-family="'Liberation Sans', Arial, sans-serif" font-size="32.8" font-weight="bold" textLength="328.0" lengthAdjust="spacingAndGlyphs">2 K <tspan font-weight="normal" font-family="'DejaVu Math TeX Gyre', 'DejaVu Sans', serif">&#8594;</tspan> <tspan font-weight="normal" font-family="'Liberation Serif', 'Times New Roman', serif">&#916;</tspan><tspan font-style="italic">T</tspan> = 2 K <tspan font-weight="normal" font-family="'DejaVu Math TeX Gyre', 'DejaVu Sans', serif">&#8594;</tspan> 38 K</text>
<path d="M711.9 98.3 V399.5" stroke="#000" stroke-width="3.5"/><path d="M711.9 75.3 L705.4 100.3 L718.4 100.3 Z M711.9 422.5 L705.4 397.5 L718.4 397.5 Z" fill="#000"/>
<path d="M1546.6 141.8 V383.4" stroke="#000" stroke-width="3.5"/><path d="M1546.6 118.8 L1540.1 143.8 L1553.1 143.8 Z M1546.6 406.4 L1540.1 381.4 L1553.1 381.4 Z" fill="#000"/>
<text transform="translate(482.0 1018.3) rotate(60.00) scale(1 1.035)" font-family="'Liberation Sans', Arial, sans-serif" font-size="42.0" font-weight="bold" textLength="438.0" lengthAdjust="spacing">2 K <tspan font-weight="normal" font-family="'DejaVu Math TeX Gyre', 'DejaVu Sans', serif">&#8594;</tspan> <tspan font-weight="normal" font-family="'Liberation Serif', 'Times New Roman', serif">&#916;</tspan><tspan font-style="italic">T</tspan> = 2 K <tspan font-weight="normal" font-family="'DejaVu Math TeX Gyre', 'DejaVu Sans', serif">&#8594;</tspan> 42 K</text>
<text transform="translate(1356.6 987.1) rotate(60.00) scale(1 1.035)" font-family="'Liberation Sans', Arial, sans-serif" font-size="42.0" font-weight="bold" textLength="438.5" lengthAdjust="spacing">2 K <tspan font-weight="normal" font-family="'DejaVu Math TeX Gyre', 'DejaVu Sans', serif">&#8594;</tspan> <tspan font-weight="normal" font-family="'Liberation Serif', 'Times New Roman', serif">&#916;</tspan><tspan font-style="italic">T</tspan> = 2 K <tspan font-weight="normal" font-family="'DejaVu Math TeX Gyre', 'DejaVu Sans', serif">&#8594;</tspan> 38 K</text></svg></body></html>
